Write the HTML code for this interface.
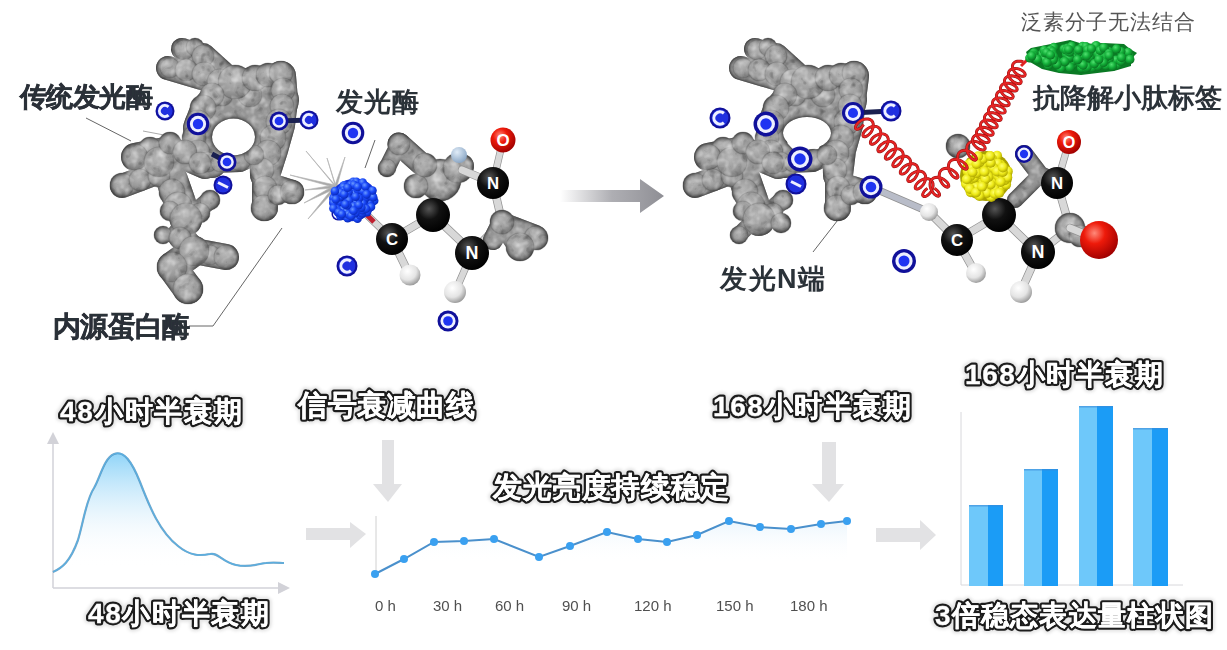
<!DOCTYPE html><html><head><meta charset="utf-8"><style>html,body{margin:0;padding:0;background:#fff;overflow:hidden;font-family:"Liberation Sans",sans-serif}svg{display:block}</style></head><body><svg width="1227" height="650" viewBox="0 0 1227 650" font-family="&quot;Liberation Sans&quot;, sans-serif"><defs>
<radialGradient id="pg" cx="42%" cy="38%" r="62%"><stop offset="0" stop-color="#b6b6b6"/><stop offset="0.65" stop-color="#999999"/><stop offset="1" stop-color="#7a7a7a"/></radialGradient>
<radialGradient id="blk" cx="38%" cy="32%" r="70%"><stop offset="0" stop-color="#555"/><stop offset="0.45" stop-color="#111"/><stop offset="1" stop-color="#000"/></radialGradient>
<radialGradient id="red" cx="38%" cy="32%" r="70%"><stop offset="0" stop-color="#ff8a7a"/><stop offset="0.4" stop-color="#ee1a0a"/><stop offset="1" stop-color="#a00000"/></radialGradient>
<radialGradient id="wht" cx="38%" cy="32%" r="70%"><stop offset="0" stop-color="#ffffff"/><stop offset="0.6" stop-color="#e4e4e4"/><stop offset="1" stop-color="#9a9a9a"/></radialGradient>
<radialGradient id="lb" cx="38%" cy="32%" r="70%"><stop offset="0" stop-color="#e0ecf8"/><stop offset="1" stop-color="#8aa6c4"/></radialGradient>
<radialGradient id="bl" cx="38%" cy="32%" r="70%"><stop offset="0" stop-color="#6a9aff"/><stop offset="0.5" stop-color="#1a48f8"/><stop offset="1" stop-color="#0828b8"/></radialGradient>
<radialGradient id="yl" cx="40%" cy="35%" r="65%"><stop offset="0" stop-color="#ffff70"/><stop offset="0.55" stop-color="#eeea18"/><stop offset="1" stop-color="#b0a800"/></radialGradient>
<radialGradient id="gr" cx="38%" cy="32%" r="70%"><stop offset="0" stop-color="#50e070"/><stop offset="0.5" stop-color="#14b03a"/><stop offset="1" stop-color="#087020"/></radialGradient>
<linearGradient id="arr" x1="0" x2="1" y1="0" y2="0"><stop offset="0" stop-color="#9a9aa0" stop-opacity="0"/><stop offset="0.5" stop-color="#9a9aa0" stop-opacity="0.8"/><stop offset="1" stop-color="#8e8e94"/></linearGradient>
<linearGradient id="crvfill" x1="0" x2="0" y1="0" y2="1"><stop offset="0" stop-color="#8ad2f8" stop-opacity="0.95"/><stop offset="0.55" stop-color="#e4f3fc" stop-opacity="0.4"/><stop offset="0.85" stop-color="#ffffff" stop-opacity="0"/></linearGradient>
<linearGradient id="linefill" x1="0" x2="0" y1="0" y2="1"><stop offset="0" stop-color="#d8ecfa" stop-opacity="0.5"/><stop offset="0.6" stop-color="#ffffff" stop-opacity="0"/></linearGradient>
<filter id="soft" x="-5%" y="-20%" width="110%" height="140%"><feGaussianBlur stdDeviation="0.45"/></filter>
<filter id="prot" x="-10%" y="-10%" width="120%" height="120%" color-interpolation-filters="sRGB">
<feGaussianBlur in="SourceAlpha" stdDeviation="2.6" result="b"/>
<feColorMatrix in="b" type="matrix" values="0 0 0 0 0.22  0 0 0 0 0.22  0 0 0 0 0.22  0 0 0 -1.7 1.7" result="dark"/>
<feComposite in="dark" in2="SourceAlpha" operator="in" result="edge"/>
<feTurbulence type="fractalNoise" baseFrequency="0.12" numOctaves="2" seed="4" result="n"/>
<feColorMatrix in="n" type="matrix" values="0 0 0 0 1  0 0 0 0 1  0 0 0 0 1  1.2 0 0 0 -0.55" result="nl"/>
<feColorMatrix in="n" type="matrix" values="0 0 0 0 0  0 0 0 0 0  0 0 0 0 0  -1.2 0 0 0 0.45" result="nd"/>
<feComposite in="nl" in2="SourceAlpha" operator="in" result="tl"/>
<feComposite in="nd" in2="SourceAlpha" operator="in" result="td"/>
<feMerge><feMergeNode in="SourceGraphic"/><feMergeNode in="tl"/><feMergeNode in="td"/><feMergeNode in="edge"/></feMerge>
</filter>
<mask id="holeL" maskUnits="userSpaceOnUse" x="0" y="0" width="1227" height="650"><rect width="1227" height="650" fill="#fff"/><ellipse cx="233.5" cy="137" rx="21.5" ry="18.5" fill="#000"/></mask>
<mask id="holeR" maskUnits="userSpaceOnUse" x="0" y="0" width="1227" height="650"><rect width="1227" height="650" fill="#fff"/><ellipse cx="807" cy="133" rx="24" ry="16" fill="#000"/></mask>
<filter id="halo" x="-10%" y="-40%" width="120%" height="180%"><feGaussianBlur stdDeviation="1.8"/></filter>
</defs><rect width="1227" height="650" fill="#fff"/><g stroke="#666" stroke-width="1" fill="none"><line x1="86" y1="118" x2="131" y2="141"/><line x1="143" y1="131" x2="164" y2="135" stroke="#aaa"/><polyline points="189,326 213,326 282,228"/><line x1="375" y1="140" x2="365" y2="168"/></g><path d="M306,151 L335,185 L336.5,188 Z" fill="#a8a8a8" stroke="#b4b4b4" stroke-width="0.7"/><path d="M327,158 L335,185 L336.5,188 Z" fill="#a8a8a8" stroke="#b4b4b4" stroke-width="0.7"/><path d="M345,157 L335,185 L336.5,188 Z" fill="#a8a8a8" stroke="#b4b4b4" stroke-width="0.7"/><path d="M290,175 L335,185 L336.5,188 Z" fill="#a8a8a8" stroke="#b4b4b4" stroke-width="0.7"/><path d="M305,190 L335,185 L336.5,188 Z" fill="#a8a8a8" stroke="#b4b4b4" stroke-width="0.7"/><path d="M304,203 L335,185 L336.5,188 Z" fill="#a8a8a8" stroke="#b4b4b4" stroke-width="0.7"/><path d="M308,219 L335,185 L336.5,188 Z" fill="#a8a8a8" stroke="#b4b4b4" stroke-width="0.7"/><g filter="url(#prot)"><g mask="url(#holeL)"><path d="M182,49 L205,57" fill="none" stroke="#959595" stroke-width="22" stroke-linecap="round" stroke-linejoin="round"/><path d="M168,68 L222,84" fill="none" stroke="#959595" stroke-width="24" stroke-linecap="round" stroke-linejoin="round"/><path d="M203,55 L235,84" fill="none" stroke="#959595" stroke-width="24" stroke-linecap="round" stroke-linejoin="round"/><path d="M235,84 L276,77" fill="none" stroke="#959595" stroke-width="28" stroke-linecap="round" stroke-linejoin="round"/><path d="M258,92 L270,88" fill="none" stroke="#959595" stroke-width="14" stroke-linecap="round" stroke-linejoin="round"/><path d="M215,105 L262,105" fill="none" stroke="#959595" stroke-width="22" stroke-linecap="round" stroke-linejoin="round"/><path d="M225,130 L245,130" fill="none" stroke="#959595" stroke-width="30" stroke-linecap="round" stroke-linejoin="round"/><path d="M250,116 L262,118" fill="none" stroke="#959595" stroke-width="14" stroke-linecap="round" stroke-linejoin="round"/><path d="M220,92 L205,110 L198,128 L200,150 L212,163" fill="none" stroke="#959595" stroke-width="30" stroke-linecap="round" stroke-linejoin="round"/><path d="M281,76 L283,100 L280,125 L273,150 L265,175" fill="none" stroke="#959595" stroke-width="30" stroke-linecap="round" stroke-linejoin="round"/><path d="M282,100 L275,125 L268,150" fill="none" stroke="#959595" stroke-width="34" stroke-linecap="round" stroke-linejoin="round"/><path d="M212,163 L240,162 L262,152" fill="none" stroke="#959595" stroke-width="20" stroke-linecap="round" stroke-linejoin="round"/><path d="M265,175 L265,208" fill="none" stroke="#959595" stroke-width="26" stroke-linecap="round" stroke-linejoin="round"/><path d="M270,185 L292,192" fill="none" stroke="#959595" stroke-width="24" stroke-linecap="round" stroke-linejoin="round"/><path d="M205,165 L170,150 L135,157" fill="none" stroke="#959595" stroke-width="28" stroke-linecap="round" stroke-linejoin="round"/><path d="M159,172 L122,186" fill="none" stroke="#959595" stroke-width="24" stroke-linecap="round" stroke-linejoin="round"/><path d="M172,180 L186,220" fill="none" stroke="#959595" stroke-width="32" stroke-linecap="round" stroke-linejoin="round"/><path d="M186,220 L210,200" fill="none" stroke="#959595" stroke-width="18" stroke-linecap="round" stroke-linejoin="round"/><path d="M180,235 L194,251 L226,257" fill="none" stroke="#959595" stroke-width="26" stroke-linecap="round" stroke-linejoin="round"/><path d="M194,251 L172,267 L188,289" fill="none" stroke="#959595" stroke-width="30" stroke-linecap="round" stroke-linejoin="round"/><circle cx="184" cy="50" r="10" fill="url(#pg)" stroke="#000" stroke-opacity="0.13" stroke-width="1.2"/><circle cx="195" cy="47" r="9" fill="url(#pg)" stroke="#000" stroke-opacity="0.13" stroke-width="1.2"/><circle cx="203" cy="56" r="11" fill="url(#pg)" stroke="#000" stroke-opacity="0.13" stroke-width="1.2"/><circle cx="170" cy="68" r="10" fill="url(#pg)" stroke="#000" stroke-opacity="0.13" stroke-width="1.2"/><circle cx="186" cy="70" r="11" fill="url(#pg)" stroke="#000" stroke-opacity="0.13" stroke-width="1.2"/><circle cx="204" cy="74" r="12" fill="url(#pg)" stroke="#000" stroke-opacity="0.13" stroke-width="1.2"/><circle cx="220" cy="82" r="13" fill="url(#pg)" stroke="#000" stroke-opacity="0.13" stroke-width="1.2"/><circle cx="222" cy="95" r="11" fill="url(#pg)" stroke="#000" stroke-opacity="0.13" stroke-width="1.2"/><circle cx="250" cy="95" r="12" fill="url(#pg)" stroke="#000" stroke-opacity="0.13" stroke-width="1.2"/><circle cx="235" cy="82" r="17" fill="url(#pg)" stroke="#000" stroke-opacity="0.13" stroke-width="1.2"/><circle cx="255" cy="78" r="13" fill="url(#pg)" stroke="#000" stroke-opacity="0.13" stroke-width="1.2"/><circle cx="268" cy="75" r="12" fill="url(#pg)" stroke="#000" stroke-opacity="0.13" stroke-width="1.2"/><circle cx="281" cy="73" r="12" fill="url(#pg)" stroke="#000" stroke-opacity="0.13" stroke-width="1.2"/><circle cx="212" cy="95" r="12" fill="url(#pg)" stroke="#000" stroke-opacity="0.13" stroke-width="1.2"/><circle cx="203" cy="108" r="13" fill="url(#pg)" stroke="#000" stroke-opacity="0.13" stroke-width="1.2"/><circle cx="198" cy="123" r="13" fill="url(#pg)" stroke="#000" stroke-opacity="0.13" stroke-width="1.2"/><circle cx="194" cy="138" r="12" fill="url(#pg)" stroke="#000" stroke-opacity="0.13" stroke-width="1.2"/><circle cx="198" cy="152" r="12" fill="url(#pg)" stroke="#000" stroke-opacity="0.13" stroke-width="1.2"/><circle cx="208" cy="162" r="10" fill="url(#pg)" stroke="#000" stroke-opacity="0.13" stroke-width="1.2"/><circle cx="283" cy="90" r="12" fill="url(#pg)" stroke="#000" stroke-opacity="0.13" stroke-width="1.2"/><circle cx="282" cy="106" r="12" fill="url(#pg)" stroke="#000" stroke-opacity="0.13" stroke-width="1.2"/><circle cx="279" cy="122" r="13" fill="url(#pg)" stroke="#000" stroke-opacity="0.13" stroke-width="1.2"/><circle cx="273" cy="138" r="13" fill="url(#pg)" stroke="#000" stroke-opacity="0.13" stroke-width="1.2"/><circle cx="268" cy="153" r="13" fill="url(#pg)" stroke="#000" stroke-opacity="0.13" stroke-width="1.2"/><circle cx="262" cy="170" r="12" fill="url(#pg)" stroke="#000" stroke-opacity="0.13" stroke-width="1.2"/><circle cx="220" cy="163" r="9" fill="url(#pg)" stroke="#000" stroke-opacity="0.13" stroke-width="1.2"/><circle cx="240" cy="160" r="11" fill="url(#pg)" stroke="#000" stroke-opacity="0.13" stroke-width="1.2"/><circle cx="254" cy="155" r="10" fill="url(#pg)" stroke="#000" stroke-opacity="0.13" stroke-width="1.2"/><circle cx="265" cy="188" r="12" fill="url(#pg)" stroke="#000" stroke-opacity="0.13" stroke-width="1.2"/><circle cx="264" cy="208" r="13" fill="url(#pg)" stroke="#000" stroke-opacity="0.13" stroke-width="1.2"/><circle cx="278" cy="195" r="10" fill="url(#pg)" stroke="#000" stroke-opacity="0.13" stroke-width="1.2"/><circle cx="292" cy="192" r="12" fill="url(#pg)" stroke="#000" stroke-opacity="0.13" stroke-width="1.2"/><circle cx="150" cy="148" r="11" fill="url(#pg)" stroke="#000" stroke-opacity="0.13" stroke-width="1.2"/><circle cx="135" cy="157" r="13" fill="url(#pg)" stroke="#000" stroke-opacity="0.13" stroke-width="1.2"/><circle cx="122" cy="185" r="12" fill="url(#pg)" stroke="#000" stroke-opacity="0.13" stroke-width="1.2"/><circle cx="140" cy="180" r="11" fill="url(#pg)" stroke="#000" stroke-opacity="0.13" stroke-width="1.2"/><circle cx="159" cy="176" r="11" fill="url(#pg)" stroke="#000" stroke-opacity="0.13" stroke-width="1.2"/><circle cx="159" cy="162" r="15" fill="url(#pg)" stroke="#000" stroke-opacity="0.13" stroke-width="1.2"/><circle cx="170" cy="143" r="11" fill="url(#pg)" stroke="#000" stroke-opacity="0.13" stroke-width="1.2"/><circle cx="185" cy="152" r="12" fill="url(#pg)" stroke="#000" stroke-opacity="0.13" stroke-width="1.2"/><circle cx="200" cy="163" r="11" fill="url(#pg)" stroke="#000" stroke-opacity="0.13" stroke-width="1.2"/><circle cx="172" cy="192" r="13" fill="url(#pg)" stroke="#000" stroke-opacity="0.13" stroke-width="1.2"/><circle cx="178" cy="206" r="14" fill="url(#pg)" stroke="#000" stroke-opacity="0.13" stroke-width="1.2"/><circle cx="170" cy="211" r="10" fill="url(#pg)" stroke="#000" stroke-opacity="0.13" stroke-width="1.2"/><circle cx="210" cy="200" r="10" fill="url(#pg)" stroke="#000" stroke-opacity="0.13" stroke-width="1.2"/><circle cx="200" cy="213" r="10" fill="url(#pg)" stroke="#000" stroke-opacity="0.13" stroke-width="1.2"/><circle cx="186" cy="219" r="16" fill="url(#pg)" stroke="#000" stroke-opacity="0.13" stroke-width="1.2"/><circle cx="163" cy="235" r="9" fill="url(#pg)" stroke="#000" stroke-opacity="0.13" stroke-width="1.2"/><circle cx="180" cy="238" r="11" fill="url(#pg)" stroke="#000" stroke-opacity="0.13" stroke-width="1.2"/><circle cx="210" cy="255" r="10" fill="url(#pg)" stroke="#000" stroke-opacity="0.13" stroke-width="1.2"/><circle cx="226" cy="257" r="12" fill="url(#pg)" stroke="#000" stroke-opacity="0.13" stroke-width="1.2"/><circle cx="194" cy="251" r="15" fill="url(#pg)" stroke="#000" stroke-opacity="0.13" stroke-width="1.2"/><circle cx="172" cy="267" r="15" fill="url(#pg)" stroke="#000" stroke-opacity="0.13" stroke-width="1.2"/><circle cx="188" cy="289" r="15" fill="url(#pg)" stroke="#000" stroke-opacity="0.13" stroke-width="1.2"/></g></g><line x1="279" y1="121" x2="309" y2="120" stroke="#1a2050" stroke-width="5"/><line x1="212" y1="154" x2="227" y2="162" stroke="#1a2050" stroke-width="5"/><circle cx="165" cy="111" r="9.5" fill="#10109a"/><circle cx="165" cy="111" r="7.6000000000000005" fill="#2030e0"/><path d="M168.5,106.8 A5.5,5.5 0 1 0 168.5,115.2" fill="none" stroke="#eef0ff" stroke-width="2.9"/><circle cx="198" cy="124" r="11.3" fill="#10109a"/><circle cx="198" cy="124" r="8.14" fill="#eef0ff"/><circle cx="198" cy="124" r="5.20" fill="#1f34f2"/><circle cx="279" cy="121" r="9.5" fill="#10109a"/><circle cx="279" cy="121" r="6.84" fill="#eef0ff"/><circle cx="279" cy="121" r="4.37" fill="#1f34f2"/><circle cx="309" cy="120" r="9.5" fill="#10109a"/><circle cx="309" cy="120" r="7.6000000000000005" fill="#2030e0"/><path d="M312.5,115.8 A5.5,5.5 0 1 0 312.5,124.2" fill="none" stroke="#eef0ff" stroke-width="2.9"/><circle cx="227" cy="162" r="9.5" fill="#10109a"/><circle cx="227" cy="162" r="6.84" fill="#eef0ff"/><circle cx="227" cy="162" r="4.37" fill="#1f34f2"/><circle cx="223" cy="185" r="9.5" fill="#10109a"/><circle cx="223" cy="185" r="7.6000000000000005" fill="#2030e0"/><line x1="218" y1="182.5" x2="228" y2="187.5" stroke="#eef0ff" stroke-width="3"/><circle cx="353" cy="133" r="11.3" fill="#10109a"/><circle cx="353" cy="133" r="8.14" fill="#eef0ff"/><circle cx="353" cy="133" r="5.20" fill="#1f34f2"/><circle cx="347" cy="266" r="10.5" fill="#10109a"/><circle cx="347" cy="266" r="8.4" fill="#2030e0"/><path d="M350.9,261.3 A6.1,6.1 0 1 0 350.9,270.7" fill="none" stroke="#eef0ff" stroke-width="3.1"/><circle cx="448" cy="321" r="10.5" fill="#10109a"/><circle cx="448" cy="321" r="7.56" fill="#eef0ff"/><circle cx="448" cy="321" r="4.83" fill="#1f34f2"/><line x1="503" y1="140" x2="493" y2="183" stroke="#909090" stroke-width="7.4" stroke-linecap="round"/><line x1="503" y1="140" x2="493" y2="183" stroke="#d8d8d8" stroke-width="6" stroke-linecap="round"/><line x1="493" y1="183" x2="502" y2="222" stroke="#909090" stroke-width="8.4" stroke-linecap="round"/><line x1="493" y1="183" x2="502" y2="222" stroke="#d8d8d8" stroke-width="7" stroke-linecap="round"/><line x1="472" y1="252" x2="502" y2="222" stroke="#909090" stroke-width="8.4" stroke-linecap="round"/><line x1="472" y1="252" x2="502" y2="222" stroke="#d8d8d8" stroke-width="7" stroke-linecap="round"/><g filter="url(#prot)"><path d="M399,144 L387,168" fill="none" stroke="#959595" stroke-width="17" stroke-linecap="round" stroke-linejoin="round"/><path d="M399,144 L437,178" fill="none" stroke="#959595" stroke-width="23" stroke-linecap="round" stroke-linejoin="round"/><path d="M437,178 L462,166" fill="none" stroke="#959595" stroke-width="24" stroke-linecap="round" stroke-linejoin="round"/><path d="M493,240 L502,222 L536,235" fill="none" stroke="#959595" stroke-width="20" stroke-linecap="round" stroke-linejoin="round"/><path d="M502,222 L518,245" fill="none" stroke="#959595" stroke-width="22" stroke-linecap="round" stroke-linejoin="round"/><circle cx="399" cy="144" r="11" fill="url(#pg)" stroke="#000" stroke-opacity="0.13" stroke-width="1.2"/><circle cx="387" cy="168" r="9" fill="url(#pg)" stroke="#000" stroke-opacity="0.13" stroke-width="1.2"/><circle cx="440" cy="180" r="21" fill="url(#pg)" stroke="#000" stroke-opacity="0.13" stroke-width="1.2"/><circle cx="416" cy="186" r="12" fill="url(#pg)" stroke="#000" stroke-opacity="0.13" stroke-width="1.2"/><circle cx="458" cy="168" r="15" fill="url(#pg)" stroke="#000" stroke-opacity="0.13" stroke-width="1.2"/><circle cx="425" cy="165" r="12" fill="url(#pg)" stroke="#000" stroke-opacity="0.13" stroke-width="1.2"/><circle cx="502" cy="222" r="12" fill="url(#pg)" stroke="#000" stroke-opacity="0.13" stroke-width="1.2"/><circle cx="536" cy="238" r="12" fill="url(#pg)" stroke="#000" stroke-opacity="0.13" stroke-width="1.2"/><circle cx="520" cy="247" r="14" fill="url(#pg)" stroke="#000" stroke-opacity="0.13" stroke-width="1.2"/></g><line x1="392" y1="239" x2="433" y2="215" stroke="#909090" stroke-width="8.4" stroke-linecap="round"/><line x1="392" y1="239" x2="433" y2="215" stroke="#d8d8d8" stroke-width="7" stroke-linecap="round"/><line x1="392" y1="239" x2="410" y2="276" stroke="#909090" stroke-width="8.4" stroke-linecap="round"/><line x1="392" y1="239" x2="410" y2="276" stroke="#d8d8d8" stroke-width="7" stroke-linecap="round"/><line x1="433" y1="215" x2="472" y2="252" stroke="#909090" stroke-width="8.4" stroke-linecap="round"/><line x1="433" y1="215" x2="472" y2="252" stroke="#d8d8d8" stroke-width="7" stroke-linecap="round"/><line x1="472" y1="253" x2="455" y2="292" stroke="#909090" stroke-width="7.4" stroke-linecap="round"/><line x1="472" y1="253" x2="455" y2="292" stroke="#d8d8d8" stroke-width="6" stroke-linecap="round"/><line x1="493" y1="183" x2="462" y2="170" stroke="#909090" stroke-width="8.4" stroke-linecap="round"/><line x1="493" y1="183" x2="462" y2="170" stroke="#d8d8d8" stroke-width="7" stroke-linecap="round"/><line x1="368" y1="216" x2="392" y2="239" stroke="#909090" stroke-width="7.4" stroke-linecap="round"/><line x1="368" y1="216" x2="392" y2="239" stroke="#d8d8d8" stroke-width="6" stroke-linecap="round"/><line x1="366" y1="214" x2="374" y2="222" stroke="#c02030" stroke-width="5"/><circle cx="459" cy="155" r="8" fill="url(#lb)"/><circle cx="503" cy="140" r="12.5" fill="url(#red)"/><text x="503" y="146.1" font-size="16.9" font-weight="bold" fill="#fff" text-anchor="middle">O</text><circle cx="433" cy="215" r="17" fill="url(#blk)"/><circle cx="493" cy="183" r="16" fill="url(#blk)"/><text x="493" y="189.0" font-size="16.8" font-weight="bold" fill="#fff" text-anchor="middle">N</text><circle cx="472" cy="253" r="17" fill="url(#blk)"/><text x="472" y="259.4" font-size="17.9" font-weight="bold" fill="#fff" text-anchor="middle">N</text><circle cx="392" cy="239" r="16" fill="url(#blk)"/><text x="392" y="245.0" font-size="16.8" font-weight="bold" fill="#fff" text-anchor="middle">C</text><circle cx="410" cy="275" r="10.5" fill="url(#wht)"/><circle cx="455" cy="292" r="11" fill="url(#wht)"/><circle cx="338" cy="214" r="6.5" fill="#10109a"/><circle cx="338" cy="214" r="5.2" fill="#2030e0"/><path d="M340.4,211.1 A3.8,3.8 0 1 0 340.4,216.9" fill="none" stroke="#eef0ff" stroke-width="1.9"/><ellipse cx="353" cy="200" rx="24" ry="21" transform="rotate(-20 353 200)" fill="#1030d8"/><circle cx="340.5" cy="216.2" r="4.3" fill="url(#bl)"/><circle cx="365.9" cy="205.7" r="4.3" fill="url(#bl)"/><circle cx="338.1" cy="204.4" r="4.3" fill="url(#bl)"/><circle cx="341.7" cy="206.1" r="4.3" fill="url(#bl)"/><circle cx="339.3" cy="201.9" r="4.3" fill="url(#bl)"/><circle cx="333.4" cy="198.1" r="4.3" fill="url(#bl)"/><circle cx="353.1" cy="181.9" r="4.3" fill="url(#bl)"/><circle cx="362.3" cy="188.4" r="4.3" fill="url(#bl)"/><circle cx="364.1" cy="196.6" r="4.3" fill="url(#bl)"/><circle cx="352.0" cy="202.7" r="4.3" fill="url(#bl)"/><circle cx="347.7" cy="209.7" r="4.3" fill="url(#bl)"/><circle cx="345.5" cy="197.4" r="4.3" fill="url(#bl)"/><circle cx="353.0" cy="189.0" r="4.3" fill="url(#bl)"/><circle cx="344.0" cy="185.2" r="4.3" fill="url(#bl)"/><circle cx="374.2" cy="200.7" r="4.3" fill="url(#bl)"/><circle cx="350.9" cy="198.4" r="4.3" fill="url(#bl)"/><circle cx="369.6" cy="201.9" r="4.3" fill="url(#bl)"/><circle cx="360.7" cy="183.6" r="4.3" fill="url(#bl)"/><circle cx="356.4" cy="181.9" r="4.3" fill="url(#bl)"/><circle cx="350.8" cy="184.9" r="4.3" fill="url(#bl)"/><circle cx="357.5" cy="218.7" r="4.3" fill="url(#bl)"/><circle cx="353.9" cy="184.9" r="4.3" fill="url(#bl)"/><circle cx="353.8" cy="199.9" r="4.3" fill="url(#bl)"/><circle cx="355.2" cy="194.0" r="4.3" fill="url(#bl)"/><circle cx="364.0" cy="200.7" r="4.3" fill="url(#bl)"/><circle cx="333.4" cy="202.7" r="4.3" fill="url(#bl)"/><circle cx="342.0" cy="189.4" r="4.3" fill="url(#bl)"/><circle cx="343.3" cy="186.9" r="4.3" fill="url(#bl)"/><circle cx="360.2" cy="197.2" r="4.3" fill="url(#bl)"/><circle cx="337.0" cy="209.0" r="4.3" fill="url(#bl)"/><circle cx="359.9" cy="215.3" r="4.3" fill="url(#bl)"/><circle cx="343.0" cy="209.6" r="4.3" fill="url(#bl)"/><circle cx="360.6" cy="209.5" r="4.3" fill="url(#bl)"/><circle cx="356.3" cy="203.8" r="4.3" fill="url(#bl)"/><circle cx="350.4" cy="207.3" r="4.3" fill="url(#bl)"/><circle cx="371.0" cy="207.0" r="4.3" fill="url(#bl)"/><circle cx="367.1" cy="212.1" r="4.3" fill="url(#bl)"/><circle cx="335.8" cy="193.1" r="4.3" fill="url(#bl)"/><circle cx="357.8" cy="209.6" r="4.3" fill="url(#bl)"/><circle cx="347.7" cy="218.1" r="4.3" fill="url(#bl)"/><circle cx="348.4" cy="192.3" r="4.3" fill="url(#bl)"/><circle cx="362.0" cy="213.1" r="4.3" fill="url(#bl)"/><circle cx="347.1" cy="197.5" r="4.3" fill="url(#bl)"/><circle cx="362.6" cy="210.2" r="4.3" fill="url(#bl)"/><circle cx="340.1" cy="197.2" r="4.3" fill="url(#bl)"/><circle cx="344.0" cy="190.5" r="4.3" fill="url(#bl)"/><circle cx="333.4" cy="208.4" r="4.3" fill="url(#bl)"/><circle cx="349.0" cy="200.5" r="4.3" fill="url(#bl)"/><circle cx="338.7" cy="212.4" r="4.3" fill="url(#bl)"/><circle cx="353.6" cy="206.2" r="4.3" fill="url(#bl)"/><circle cx="366.6" cy="197.4" r="4.3" fill="url(#bl)"/><circle cx="355.3" cy="213.2" r="4.3" fill="url(#bl)"/><circle cx="362.8" cy="203.7" r="4.3" fill="url(#bl)"/><circle cx="346.8" cy="211.9" r="4.3" fill="url(#bl)"/><circle cx="365.2" cy="191.2" r="4.3" fill="url(#bl)"/><circle cx="340.8" cy="192.8" r="4.3" fill="url(#bl)"/><circle cx="335.8" cy="199.3" r="4.3" fill="url(#bl)"/><circle cx="366.1" cy="208.8" r="4.3" fill="url(#bl)"/><circle cx="348.3" cy="214.4" r="4.3" fill="url(#bl)"/><circle cx="341.8" cy="214.2" r="4.3" fill="url(#bl)"/><circle cx="334.9" cy="191.0" r="4.3" fill="url(#bl)"/><circle cx="344.2" cy="194.4" r="4.3" fill="url(#bl)"/><circle cx="369.7" cy="195.8" r="4.3" fill="url(#bl)"/><circle cx="358.1" cy="190.1" r="4.3" fill="url(#bl)"/><circle cx="362.7" cy="182.6" r="4.3" fill="url(#bl)"/><circle cx="358.9" cy="198.5" r="4.3" fill="url(#bl)"/><circle cx="355.6" cy="196.7" r="4.3" fill="url(#bl)"/><circle cx="361.4" cy="207.6" r="4.3" fill="url(#bl)"/><circle cx="347.4" cy="205.4" r="4.3" fill="url(#bl)"/><circle cx="362.8" cy="191.0" r="4.3" fill="url(#bl)"/><circle cx="365.5" cy="186.5" r="4.3" fill="url(#bl)"/><circle cx="373.2" cy="197.2" r="4.3" fill="url(#bl)"/><circle cx="372.5" cy="190.5" r="4.3" fill="url(#bl)"/><circle cx="358.7" cy="205.1" r="4.3" fill="url(#bl)"/><circle cx="366.5" cy="194.4" r="4.3" fill="url(#bl)"/><circle cx="351.1" cy="215.9" r="4.3" fill="url(#bl)"/><circle cx="357.6" cy="187.0" r="4.3" fill="url(#bl)"/><circle cx="347.5" cy="187.7" r="4.3" fill="url(#bl)"/><circle cx="345.3" cy="204.4" r="4.3" fill="url(#bl)"/><circle cx="353.5" cy="210.8" r="4.3" fill="url(#bl)"/><text x="20" y="106" font-size="26.5" font-weight="bold" fill="#2c3038" stroke="#2c3038" stroke-width="0.5" letter-spacing="-0.6" filter="url(#soft)">传统发光酶</text><text x="336" y="111" font-size="27" font-weight="bold" fill="#2c3038" stroke="#2c3038" stroke-width="0" letter-spacing="1" filter="url(#soft)">发光酶</text><text x="53" y="336" font-size="27.5" font-weight="bold" fill="#2c3038" stroke="#2c3038" stroke-width="0.5" letter-spacing="-0.7" filter="url(#soft)">内源蛋白酶</text><path d="M560,190 L640,190 L640,179 L664,196 L640,213 L640,202 L560,202 Z" fill="url(#arr)"/><g stroke="#666" stroke-width="1" fill="none"><line x1="841" y1="216" x2="813" y2="252"/></g><g filter="url(#prot)"><g mask="url(#holeR)"><path d="M755,49 L778,57" fill="none" stroke="#959595" stroke-width="22" stroke-linecap="round" stroke-linejoin="round"/><path d="M741,68 L795,84" fill="none" stroke="#959595" stroke-width="24" stroke-linecap="round" stroke-linejoin="round"/><path d="M776,55 L808,84" fill="none" stroke="#959595" stroke-width="24" stroke-linecap="round" stroke-linejoin="round"/><path d="M808,84 L849,77" fill="none" stroke="#959595" stroke-width="28" stroke-linecap="round" stroke-linejoin="round"/><path d="M831,92 L838,88" fill="none" stroke="#959595" stroke-width="14" stroke-linecap="round" stroke-linejoin="round"/><path d="M788,105 L835,105" fill="none" stroke="#959595" stroke-width="22" stroke-linecap="round" stroke-linejoin="round"/><path d="M798,130 L818,130" fill="none" stroke="#959595" stroke-width="30" stroke-linecap="round" stroke-linejoin="round"/><path d="M823,116 L835,118" fill="none" stroke="#959595" stroke-width="14" stroke-linecap="round" stroke-linejoin="round"/><path d="M793,92 L778,110 L771,128 L773,150 L785,163" fill="none" stroke="#959595" stroke-width="30" stroke-linecap="round" stroke-linejoin="round"/><path d="M854,76 L851,100 L848,125 L841,150 L838,175" fill="none" stroke="#959595" stroke-width="30" stroke-linecap="round" stroke-linejoin="round"/><path d="M850,100 L843,125 L836,150" fill="none" stroke="#959595" stroke-width="34" stroke-linecap="round" stroke-linejoin="round"/><path d="M785,163 L813,162 L835,152" fill="none" stroke="#959595" stroke-width="20" stroke-linecap="round" stroke-linejoin="round"/><path d="M838,175 L838,208" fill="none" stroke="#959595" stroke-width="26" stroke-linecap="round" stroke-linejoin="round"/><path d="M843,185 L865,192" fill="none" stroke="#959595" stroke-width="24" stroke-linecap="round" stroke-linejoin="round"/><path d="M778,165 L743,150 L708,157" fill="none" stroke="#959595" stroke-width="28" stroke-linecap="round" stroke-linejoin="round"/><path d="M732,172 L695,186" fill="none" stroke="#959595" stroke-width="24" stroke-linecap="round" stroke-linejoin="round"/><path d="M745,180 L759,220" fill="none" stroke="#959595" stroke-width="32" stroke-linecap="round" stroke-linejoin="round"/><path d="M759,220 L783,200" fill="none" stroke="#959595" stroke-width="18" stroke-linecap="round" stroke-linejoin="round"/><path d="M752,222 L740,234" fill="none" stroke="#959595" stroke-width="16" stroke-linecap="round" stroke-linejoin="round"/><circle cx="757" cy="50" r="10" fill="url(#pg)" stroke="#000" stroke-opacity="0.13" stroke-width="1.2"/><circle cx="768" cy="47" r="9" fill="url(#pg)" stroke="#000" stroke-opacity="0.13" stroke-width="1.2"/><circle cx="776" cy="56" r="11" fill="url(#pg)" stroke="#000" stroke-opacity="0.13" stroke-width="1.2"/><circle cx="743" cy="68" r="10" fill="url(#pg)" stroke="#000" stroke-opacity="0.13" stroke-width="1.2"/><circle cx="759" cy="70" r="11" fill="url(#pg)" stroke="#000" stroke-opacity="0.13" stroke-width="1.2"/><circle cx="777" cy="74" r="12" fill="url(#pg)" stroke="#000" stroke-opacity="0.13" stroke-width="1.2"/><circle cx="793" cy="82" r="13" fill="url(#pg)" stroke="#000" stroke-opacity="0.13" stroke-width="1.2"/><circle cx="795" cy="95" r="11" fill="url(#pg)" stroke="#000" stroke-opacity="0.13" stroke-width="1.2"/><circle cx="823" cy="95" r="12" fill="url(#pg)" stroke="#000" stroke-opacity="0.13" stroke-width="1.2"/><circle cx="808" cy="82" r="17" fill="url(#pg)" stroke="#000" stroke-opacity="0.13" stroke-width="1.2"/><circle cx="828" cy="78" r="13" fill="url(#pg)" stroke="#000" stroke-opacity="0.13" stroke-width="1.2"/><circle cx="841" cy="75" r="12" fill="url(#pg)" stroke="#000" stroke-opacity="0.13" stroke-width="1.2"/><circle cx="854" cy="73" r="12" fill="url(#pg)" stroke="#000" stroke-opacity="0.13" stroke-width="1.2"/><circle cx="785" cy="95" r="12" fill="url(#pg)" stroke="#000" stroke-opacity="0.13" stroke-width="1.2"/><circle cx="776" cy="108" r="13" fill="url(#pg)" stroke="#000" stroke-opacity="0.13" stroke-width="1.2"/><circle cx="771" cy="123" r="13" fill="url(#pg)" stroke="#000" stroke-opacity="0.13" stroke-width="1.2"/><circle cx="767" cy="138" r="12" fill="url(#pg)" stroke="#000" stroke-opacity="0.13" stroke-width="1.2"/><circle cx="771" cy="152" r="12" fill="url(#pg)" stroke="#000" stroke-opacity="0.13" stroke-width="1.2"/><circle cx="781" cy="162" r="10" fill="url(#pg)" stroke="#000" stroke-opacity="0.13" stroke-width="1.2"/><circle cx="851" cy="90" r="12" fill="url(#pg)" stroke="#000" stroke-opacity="0.13" stroke-width="1.2"/><circle cx="850" cy="106" r="12" fill="url(#pg)" stroke="#000" stroke-opacity="0.13" stroke-width="1.2"/><circle cx="847" cy="122" r="13" fill="url(#pg)" stroke="#000" stroke-opacity="0.13" stroke-width="1.2"/><circle cx="841" cy="138" r="13" fill="url(#pg)" stroke="#000" stroke-opacity="0.13" stroke-width="1.2"/><circle cx="836" cy="153" r="13" fill="url(#pg)" stroke="#000" stroke-opacity="0.13" stroke-width="1.2"/><circle cx="835" cy="170" r="12" fill="url(#pg)" stroke="#000" stroke-opacity="0.13" stroke-width="1.2"/><circle cx="793" cy="163" r="9" fill="url(#pg)" stroke="#000" stroke-opacity="0.13" stroke-width="1.2"/><circle cx="813" cy="160" r="11" fill="url(#pg)" stroke="#000" stroke-opacity="0.13" stroke-width="1.2"/><circle cx="827" cy="155" r="10" fill="url(#pg)" stroke="#000" stroke-opacity="0.13" stroke-width="1.2"/><circle cx="838" cy="188" r="12" fill="url(#pg)" stroke="#000" stroke-opacity="0.13" stroke-width="1.2"/><circle cx="837" cy="208" r="13" fill="url(#pg)" stroke="#000" stroke-opacity="0.13" stroke-width="1.2"/><circle cx="851" cy="195" r="10" fill="url(#pg)" stroke="#000" stroke-opacity="0.13" stroke-width="1.2"/><circle cx="865" cy="192" r="12" fill="url(#pg)" stroke="#000" stroke-opacity="0.13" stroke-width="1.2"/><circle cx="723" cy="148" r="11" fill="url(#pg)" stroke="#000" stroke-opacity="0.13" stroke-width="1.2"/><circle cx="708" cy="157" r="13" fill="url(#pg)" stroke="#000" stroke-opacity="0.13" stroke-width="1.2"/><circle cx="695" cy="185" r="12" fill="url(#pg)" stroke="#000" stroke-opacity="0.13" stroke-width="1.2"/><circle cx="713" cy="180" r="11" fill="url(#pg)" stroke="#000" stroke-opacity="0.13" stroke-width="1.2"/><circle cx="732" cy="176" r="11" fill="url(#pg)" stroke="#000" stroke-opacity="0.13" stroke-width="1.2"/><circle cx="732" cy="162" r="15" fill="url(#pg)" stroke="#000" stroke-opacity="0.13" stroke-width="1.2"/><circle cx="743" cy="143" r="11" fill="url(#pg)" stroke="#000" stroke-opacity="0.13" stroke-width="1.2"/><circle cx="758" cy="152" r="12" fill="url(#pg)" stroke="#000" stroke-opacity="0.13" stroke-width="1.2"/><circle cx="773" cy="163" r="11" fill="url(#pg)" stroke="#000" stroke-opacity="0.13" stroke-width="1.2"/><circle cx="745" cy="192" r="13" fill="url(#pg)" stroke="#000" stroke-opacity="0.13" stroke-width="1.2"/><circle cx="751" cy="206" r="14" fill="url(#pg)" stroke="#000" stroke-opacity="0.13" stroke-width="1.2"/><circle cx="743" cy="211" r="10" fill="url(#pg)" stroke="#000" stroke-opacity="0.13" stroke-width="1.2"/><circle cx="783" cy="200" r="10" fill="url(#pg)" stroke="#000" stroke-opacity="0.13" stroke-width="1.2"/><circle cx="773" cy="213" r="10" fill="url(#pg)" stroke="#000" stroke-opacity="0.13" stroke-width="1.2"/><circle cx="759" cy="219" r="16" fill="url(#pg)" stroke="#000" stroke-opacity="0.13" stroke-width="1.2"/><circle cx="739" cy="235" r="9" fill="url(#pg)" stroke="#000" stroke-opacity="0.13" stroke-width="1.2"/><circle cx="781" cy="223" r="10" fill="url(#pg)" stroke="#000" stroke-opacity="0.13" stroke-width="1.2"/></g></g><line x1="852" y1="113" x2="891" y2="111" stroke="#1a2050" stroke-width="5"/><line x1="871" y1="187" x2="929" y2="212" stroke="#909090" stroke-width="7.4" stroke-linecap="round"/><line x1="871" y1="187" x2="929" y2="212" stroke="#b8bcc8" stroke-width="6" stroke-linecap="round"/><line x1="1069" y1="142" x2="1057" y2="183" stroke="#909090" stroke-width="7.4" stroke-linecap="round"/><line x1="1069" y1="142" x2="1057" y2="183" stroke="#d8d8d8" stroke-width="6" stroke-linecap="round"/><line x1="1057" y1="183" x2="1070" y2="228" stroke="#909090" stroke-width="8.4" stroke-linecap="round"/><line x1="1057" y1="183" x2="1070" y2="228" stroke="#d8d8d8" stroke-width="7" stroke-linecap="round"/><line x1="1038" y1="253" x2="1070" y2="228" stroke="#909090" stroke-width="8.4" stroke-linecap="round"/><line x1="1038" y1="253" x2="1070" y2="228" stroke="#d8d8d8" stroke-width="7" stroke-linecap="round"/><g filter="url(#prot)"><path d="M1024,154 L1040,175 L1057,183" fill="none" stroke="#959595" stroke-width="18" stroke-linecap="round" stroke-linejoin="round"/><path d="M1040,175 L1015,200" fill="none" stroke="#959595" stroke-width="16" stroke-linecap="round" stroke-linejoin="round"/><circle cx="958" cy="146" r="12" fill="url(#pg)" stroke="#000" stroke-opacity="0.13" stroke-width="1.2"/><circle cx="1070" cy="228" r="15" fill="url(#pg)" stroke="#000" stroke-opacity="0.13" stroke-width="1.2"/><circle cx="1080" cy="236" r="11" fill="url(#pg)" stroke="#000" stroke-opacity="0.13" stroke-width="1.2"/></g><line x1="1070" y1="228" x2="1099" y2="240" stroke="#909090" stroke-width="8.4" stroke-linecap="round"/><line x1="1070" y1="228" x2="1099" y2="240" stroke="#d8d8d8" stroke-width="7" stroke-linecap="round"/><line x1="957" y1="240" x2="999" y2="215" stroke="#909090" stroke-width="8.4" stroke-linecap="round"/><line x1="957" y1="240" x2="999" y2="215" stroke="#d8d8d8" stroke-width="7" stroke-linecap="round"/><line x1="957" y1="240" x2="976" y2="274" stroke="#909090" stroke-width="8.4" stroke-linecap="round"/><line x1="957" y1="240" x2="976" y2="274" stroke="#d8d8d8" stroke-width="7" stroke-linecap="round"/><line x1="999" y1="215" x2="1038" y2="253" stroke="#909090" stroke-width="8.4" stroke-linecap="round"/><line x1="999" y1="215" x2="1038" y2="253" stroke="#d8d8d8" stroke-width="7" stroke-linecap="round"/><line x1="1038" y1="253" x2="1021" y2="291" stroke="#909090" stroke-width="8.4" stroke-linecap="round"/><line x1="1038" y1="253" x2="1021" y2="291" stroke="#d8d8d8" stroke-width="7" stroke-linecap="round"/><line x1="929" y1="212" x2="957" y2="240" stroke="#909090" stroke-width="8.4" stroke-linecap="round"/><line x1="929" y1="212" x2="957" y2="240" stroke="#d8d8d8" stroke-width="7" stroke-linecap="round"/><circle cx="720" cy="118" r="10.5" fill="#10109a"/><circle cx="720" cy="118" r="8.4" fill="#2030e0"/><path d="M723.9,113.3 A6.1,6.1 0 1 0 723.9,122.7" fill="none" stroke="#eef0ff" stroke-width="3.1"/><circle cx="766" cy="124" r="12.5" fill="#10109a"/><circle cx="766" cy="124" r="9.00" fill="#eef0ff"/><circle cx="766" cy="124" r="5.75" fill="#1f34f2"/><circle cx="853" cy="113" r="11" fill="#10109a"/><circle cx="853" cy="113" r="7.92" fill="#eef0ff"/><circle cx="853" cy="113" r="5.06" fill="#1f34f2"/><circle cx="891" cy="111" r="10.5" fill="#10109a"/><circle cx="891" cy="111" r="8.4" fill="#2030e0"/><path d="M894.9,106.3 A6.1,6.1 0 1 0 894.9,115.7" fill="none" stroke="#eef0ff" stroke-width="3.1"/><circle cx="800" cy="159" r="12.5" fill="#10109a"/><circle cx="800" cy="159" r="9.00" fill="#eef0ff"/><circle cx="800" cy="159" r="5.75" fill="#1f34f2"/><circle cx="796" cy="184" r="10.5" fill="#10109a"/><circle cx="796" cy="184" r="8.4" fill="#2030e0"/><line x1="791" y1="181.5" x2="801" y2="186.5" stroke="#eef0ff" stroke-width="3"/><circle cx="871" cy="187" r="11.5" fill="#10109a"/><circle cx="871" cy="187" r="8.28" fill="#eef0ff"/><circle cx="871" cy="187" r="5.29" fill="#1f34f2"/><circle cx="904" cy="261" r="12" fill="#10109a"/><circle cx="904" cy="261" r="8.64" fill="#eef0ff"/><circle cx="904" cy="261" r="5.52" fill="#1f34f2"/><circle cx="1024" cy="154" r="9" fill="#10109a"/><circle cx="1024" cy="154" r="6.48" fill="#eef0ff"/><circle cx="1024" cy="154" r="4.14" fill="#1f34f2"/><circle cx="1069" cy="142" r="12" fill="url(#red)"/><text x="1069" y="147.8" font-size="16.2" font-weight="bold" fill="#fff" text-anchor="middle">O</text><circle cx="999" cy="215" r="17" fill="url(#blk)"/><circle cx="1057" cy="183" r="16" fill="url(#blk)"/><text x="1057" y="189.0" font-size="16.8" font-weight="bold" fill="#fff" text-anchor="middle">N</text><circle cx="1038" cy="252" r="17" fill="url(#blk)"/><text x="1038" y="258.4" font-size="17.9" font-weight="bold" fill="#fff" text-anchor="middle">N</text><circle cx="957" cy="240" r="16" fill="url(#blk)"/><text x="957" y="246.0" font-size="16.8" font-weight="bold" fill="#fff" text-anchor="middle">C</text><circle cx="1099" cy="240" r="19" fill="url(#red)"/><circle cx="929" cy="212" r="9" fill="url(#wht)"/><circle cx="976" cy="273" r="10" fill="url(#wht)"/><circle cx="1021" cy="292" r="11" fill="url(#wht)"/><path d="M863.6,124.6 L862.2,126.4 L860.7,127.8 L859.2,128.7 L857.8,129.3 L856.7,129.3 L855.9,128.9 L855.4,128.1 L855.5,126.9 L856.0,125.5 L857.0,124.0 L858.4,122.5 L860.1,121.1 L862.1,120.0 L864.2,119.2 L866.4,118.9 L868.4,119.0 L870.2,119.6 L871.6,120.6 L872.7,122.0 L873.2,123.8 L873.3,125.8 L873.0,128.0 L872.2,130.1 L871.1,132.1 L869.7,133.8 L868.2,135.2 L866.7,136.2 L865.3,136.7 L864.2,136.8 L863.3,136.4 L862.9,135.5 L863.0,134.4 L863.5,133.0 L864.5,131.5 L865.9,130.0 L867.6,128.6 L869.6,127.5 L871.7,126.7 L873.8,126.3 L875.9,126.4 L877.6,127.0 L879.1,128.1 L880.1,129.5 L880.7,131.3 L880.8,133.3 L880.5,135.4 L879.7,137.6 L878.6,139.6 L877.2,141.3 L875.7,142.7 L874.2,143.7 L872.8,144.2 L871.6,144.2 L870.8,143.8 L870.4,143.0 L870.4,141.8 L871.0,140.5 L871.9,138.9 L873.3,137.4 L875.1,136.1 L877.1,135.0 L879.2,134.2 L881.3,133.8 L883.3,133.9 L885.1,134.5 L886.6,135.5 L887.6,137.0 L888.2,138.8 L888.3,140.8 L887.9,142.9 L887.1,145.0 L886.0,147.0 L884.7,148.8 L883.2,150.2 L881.7,151.2 L880.3,151.7 L879.1,151.7 L878.3,151.3 L877.9,150.5 L877.9,149.3 L878.4,147.9 L879.4,146.4 L880.8,144.9 L882.6,143.6 L884.5,142.4 L886.7,141.7 L888.8,141.3 L890.8,141.4 L892.6,142.0 L894.0,143.0 L895.1,144.5 L895.7,146.2 L895.8,148.3 L895.4,150.4 L894.6,152.5 L893.5,154.5 L892.1,156.2 L890.6,157.6 L889.1,158.6 L887.7,159.1 L886.6,159.2 L885.8,158.8 L885.3,157.9 L885.4,156.8 L885.9,155.4 L886.9,153.9 L888.3,152.4 L890.0,151.0 L892.0,149.9 L894.1,149.1 L896.3,148.8 L898.3,148.9 L900.1,149.4 L901.5,150.5 L902.6,151.9 L903.1,153.7 L903.2,155.7 L902.9,157.9 L902.1,160.0 L901.0,162.0 L899.6,163.7 L898.1,165.1 L896.6,166.1 L895.2,166.6 L894.1,166.7 L893.2,166.2 L892.8,165.4 L892.9,164.3 L893.4,162.9 L894.4,161.4 L895.8,159.9 L897.5,158.5 L899.5,157.4 L901.6,156.6 L903.7,156.2 L905.8,156.3 L907.5,156.9 L909.0,158.0 L910.0,159.4 L910.6,161.2 L910.7,163.2 L910.3,165.3 L909.6,167.5 L908.4,169.4 L907.1,171.2 L905.6,172.6 L904.1,173.6 L902.7,174.1 L901.5,174.1 L900.7,173.7 L900.3,172.9 L900.3,171.7 L900.8,170.3 L901.8,168.8 L903.2,167.3 L905.0,166.0 L907.0,164.9 L909.1,164.1 L911.2,163.7 L913.2,163.8 L915.0,164.4 L916.5,165.4 L917.5,166.9 L918.1,168.7 L918.2,170.7 L917.8,172.8 L917.0,174.9 L915.9,176.9 L914.6,178.7 L913.1,180.1 L911.5,181.0 L910.2,181.6 L909.0,181.6 L908.2,181.2 L907.8,180.4 L907.8,179.2 L908.3,177.8 L909.3,176.3 L910.7,174.8 L912.4,173.4 L914.4,172.3 L916.6,171.5 L918.7,171.2 L920.7,171.3 L922.5,171.9 L923.9,172.9 L925.0,174.4 L925.6,176.1 L925.7,178.2 L925.3,180.3 L924.5,182.4 L923.4,184.4 L922.0,186.1 L920.5,187.5 L919.0,188.5 L917.6,189.0 L916.5,189.1 L915.6,188.7 L915.2,187.8 L915.3,186.7 L915.8,185.3 L916.8,183.8 L918.2,182.3 L919.9,180.9 L921.9,179.8 L924.0,179.0 L926.2,178.7 L928.2,178.8 L930.0,179.3 L931.4,180.4 L932.4,181.8 L933.0,183.6 L933.1,185.6 L932.8,187.8 L932.0,189.9 L930.9,191.9 L929.5,193.6 L928.0,195.0 L926.5,196.0 L925.1,196.5 L923.9,196.6 L923.1,196.1 L922.7,195.3 L922.7,194.2 L923.3,192.8 L924.2,191.3 L925.6,189.8 L927.4,188.4" fill="none" stroke="#901010" stroke-width="2.9"/><path d="M863.6,124.6 L862.2,126.4 L860.7,127.8 L859.2,128.7 L857.8,129.3 L856.7,129.3 L855.9,128.9 L855.4,128.1 L855.5,126.9 L856.0,125.5 L857.0,124.0 L858.4,122.5 L860.1,121.1 L862.1,120.0 L864.2,119.2 L866.4,118.9 L868.4,119.0 L870.2,119.6 L871.6,120.6 L872.7,122.0 L873.2,123.8 L873.3,125.8 L873.0,128.0 L872.2,130.1 L871.1,132.1 L869.7,133.8 L868.2,135.2 L866.7,136.2 L865.3,136.7 L864.2,136.8 L863.3,136.4 L862.9,135.5 L863.0,134.4 L863.5,133.0 L864.5,131.5 L865.9,130.0 L867.6,128.6 L869.6,127.5 L871.7,126.7 L873.8,126.3 L875.9,126.4 L877.6,127.0 L879.1,128.1 L880.1,129.5 L880.7,131.3 L880.8,133.3 L880.5,135.4 L879.7,137.6 L878.6,139.6 L877.2,141.3 L875.7,142.7 L874.2,143.7 L872.8,144.2 L871.6,144.2 L870.8,143.8 L870.4,143.0 L870.4,141.8 L871.0,140.5 L871.9,138.9 L873.3,137.4 L875.1,136.1 L877.1,135.0 L879.2,134.2 L881.3,133.8 L883.3,133.9 L885.1,134.5 L886.6,135.5 L887.6,137.0 L888.2,138.8 L888.3,140.8 L887.9,142.9 L887.1,145.0 L886.0,147.0 L884.7,148.8 L883.2,150.2 L881.7,151.2 L880.3,151.7 L879.1,151.7 L878.3,151.3 L877.9,150.5 L877.9,149.3 L878.4,147.9 L879.4,146.4 L880.8,144.9 L882.6,143.6 L884.5,142.4 L886.7,141.7 L888.8,141.3 L890.8,141.4 L892.6,142.0 L894.0,143.0 L895.1,144.5 L895.7,146.2 L895.8,148.3 L895.4,150.4 L894.6,152.5 L893.5,154.5 L892.1,156.2 L890.6,157.6 L889.1,158.6 L887.7,159.1 L886.6,159.2 L885.8,158.8 L885.3,157.9 L885.4,156.8 L885.9,155.4 L886.9,153.9 L888.3,152.4 L890.0,151.0 L892.0,149.9 L894.1,149.1 L896.3,148.8 L898.3,148.9 L900.1,149.4 L901.5,150.5 L902.6,151.9 L903.1,153.7 L903.2,155.7 L902.9,157.9 L902.1,160.0 L901.0,162.0 L899.6,163.7 L898.1,165.1 L896.6,166.1 L895.2,166.6 L894.1,166.7 L893.2,166.2 L892.8,165.4 L892.9,164.3 L893.4,162.9 L894.4,161.4 L895.8,159.9 L897.5,158.5 L899.5,157.4 L901.6,156.6 L903.7,156.2 L905.8,156.3 L907.5,156.9 L909.0,158.0 L910.0,159.4 L910.6,161.2 L910.7,163.2 L910.3,165.3 L909.6,167.5 L908.4,169.4 L907.1,171.2 L905.6,172.6 L904.1,173.6 L902.7,174.1 L901.5,174.1 L900.7,173.7 L900.3,172.9 L900.3,171.7 L900.8,170.3 L901.8,168.8 L903.2,167.3 L905.0,166.0 L907.0,164.9 L909.1,164.1 L911.2,163.7 L913.2,163.8 L915.0,164.4 L916.5,165.4 L917.5,166.9 L918.1,168.7 L918.2,170.7 L917.8,172.8 L917.0,174.9 L915.9,176.9 L914.6,178.7 L913.1,180.1 L911.5,181.0 L910.2,181.6 L909.0,181.6 L908.2,181.2 L907.8,180.4 L907.8,179.2 L908.3,177.8 L909.3,176.3 L910.7,174.8 L912.4,173.4 L914.4,172.3 L916.6,171.5 L918.7,171.2 L920.7,171.3 L922.5,171.9 L923.9,172.9 L925.0,174.4 L925.6,176.1 L925.7,178.2 L925.3,180.3 L924.5,182.4 L923.4,184.4 L922.0,186.1 L920.5,187.5 L919.0,188.5 L917.6,189.0 L916.5,189.1 L915.6,188.7 L915.2,187.8 L915.3,186.7 L915.8,185.3 L916.8,183.8 L918.2,182.3 L919.9,180.9 L921.9,179.8 L924.0,179.0 L926.2,178.7 L928.2,178.8 L930.0,179.3 L931.4,180.4 L932.4,181.8 L933.0,183.6 L933.1,185.6 L932.8,187.8 L932.0,189.9 L930.9,191.9 L929.5,193.6 L928.0,195.0 L926.5,196.0 L925.1,196.5 L923.9,196.6 L923.1,196.1 L922.7,195.3 L922.7,194.2 L923.3,192.8 L924.2,191.3 L925.6,189.8 L927.4,188.4" fill="none" stroke="#e52424" stroke-width="2.0"/><ellipse cx="986" cy="176" rx="26" ry="25" fill="#a8a000"/><circle cx="993.8" cy="177.1" r="5" fill="url(#yl)"/><circle cx="979.2" cy="168.4" r="5" fill="url(#yl)"/><circle cx="983.7" cy="189.2" r="5" fill="url(#yl)"/><circle cx="984.3" cy="162.1" r="5" fill="url(#yl)"/><circle cx="968.2" cy="165.0" r="5" fill="url(#yl)"/><circle cx="1007.8" cy="171.4" r="5" fill="url(#yl)"/><circle cx="969.4" cy="167.9" r="5" fill="url(#yl)"/><circle cx="989.7" cy="181.4" r="5" fill="url(#yl)"/><circle cx="997.0" cy="189.0" r="5" fill="url(#yl)"/><circle cx="981.2" cy="170.9" r="5" fill="url(#yl)"/><circle cx="979.6" cy="182.7" r="5" fill="url(#yl)"/><circle cx="992.9" cy="162.2" r="5" fill="url(#yl)"/><circle cx="997.1" cy="155.8" r="5" fill="url(#yl)"/><circle cx="989.4" cy="192.4" r="5" fill="url(#yl)"/><circle cx="973.5" cy="181.2" r="5" fill="url(#yl)"/><circle cx="970.7" cy="192.2" r="5" fill="url(#yl)"/><circle cx="979.8" cy="177.9" r="5" fill="url(#yl)"/><circle cx="991.6" cy="170.9" r="5" fill="url(#yl)"/><circle cx="991.2" cy="196.9" r="5" fill="url(#yl)"/><circle cx="1001.0" cy="187.4" r="5" fill="url(#yl)"/><circle cx="991.6" cy="169.9" r="5" fill="url(#yl)"/><circle cx="971.1" cy="183.7" r="5" fill="url(#yl)"/><circle cx="981.5" cy="193.4" r="5" fill="url(#yl)"/><circle cx="997.5" cy="175.5" r="5" fill="url(#yl)"/><circle cx="971.8" cy="178.9" r="5" fill="url(#yl)"/><circle cx="992.3" cy="183.4" r="5" fill="url(#yl)"/><circle cx="994.4" cy="188.7" r="5" fill="url(#yl)"/><circle cx="991.8" cy="158.6" r="5" fill="url(#yl)"/><circle cx="1006.1" cy="184.6" r="5" fill="url(#yl)"/><circle cx="976.4" cy="187.1" r="5" fill="url(#yl)"/><circle cx="1000.6" cy="164.7" r="5" fill="url(#yl)"/><circle cx="971.1" cy="163.1" r="5" fill="url(#yl)"/><circle cx="974.0" cy="177.7" r="5" fill="url(#yl)"/><circle cx="1004.8" cy="180.2" r="5" fill="url(#yl)"/><circle cx="967.6" cy="171.6" r="5" fill="url(#yl)"/><circle cx="971.9" cy="168.8" r="5" fill="url(#yl)"/><circle cx="980.3" cy="174.1" r="5" fill="url(#yl)"/><circle cx="987.0" cy="192.9" r="5" fill="url(#yl)"/><circle cx="999.5" cy="177.1" r="5" fill="url(#yl)"/><circle cx="1001.4" cy="173.7" r="5" fill="url(#yl)"/><circle cx="982.9" cy="165.2" r="5" fill="url(#yl)"/><circle cx="979.5" cy="162.5" r="5" fill="url(#yl)"/><circle cx="994.8" cy="193.8" r="5" fill="url(#yl)"/><circle cx="970.3" cy="176.3" r="5" fill="url(#yl)"/><circle cx="966.1" cy="183.9" r="5" fill="url(#yl)"/><circle cx="997.8" cy="163.5" r="5" fill="url(#yl)"/><circle cx="990.6" cy="184.5" r="5" fill="url(#yl)"/><circle cx="976.6" cy="173.1" r="5" fill="url(#yl)"/><circle cx="966.8" cy="179.3" r="5" fill="url(#yl)"/><circle cx="993.5" cy="168.1" r="5" fill="url(#yl)"/><circle cx="979.4" cy="195.9" r="5" fill="url(#yl)"/><circle cx="969.8" cy="188.9" r="5" fill="url(#yl)"/><circle cx="990.7" cy="162.7" r="5" fill="url(#yl)"/><circle cx="982.8" cy="159.0" r="5" fill="url(#yl)"/><circle cx="983.3" cy="183.9" r="5" fill="url(#yl)"/><circle cx="976.0" cy="192.5" r="5" fill="url(#yl)"/><circle cx="972.5" cy="172.2" r="5" fill="url(#yl)"/><circle cx="978.1" cy="156.3" r="5" fill="url(#yl)"/><circle cx="988.4" cy="176.9" r="5" fill="url(#yl)"/><circle cx="997.0" cy="171.4" r="5" fill="url(#yl)"/><circle cx="1007.3" cy="177.5" r="5" fill="url(#yl)"/><circle cx="990.1" cy="156.1" r="5" fill="url(#yl)"/><circle cx="976.6" cy="163.9" r="5" fill="url(#yl)"/><circle cx="1002.8" cy="171.9" r="5" fill="url(#yl)"/><circle cx="985.4" cy="179.1" r="5" fill="url(#yl)"/><circle cx="1000.6" cy="181.9" r="5" fill="url(#yl)"/><circle cx="1002.9" cy="167.4" r="5" fill="url(#yl)"/><circle cx="984.5" cy="171.8" r="5" fill="url(#yl)"/><circle cx="982.0" cy="186.6" r="5" fill="url(#yl)"/><circle cx="999.2" cy="192.9" r="5" fill="url(#yl)"/><path d="M934.6,188.4 L936.4,189.8 L937.9,191.2 L938.9,192.6 L939.5,194.0 L939.6,195.1 L939.2,195.8 L938.5,196.2 L937.4,196.0 L936.1,195.4 L934.6,194.4 L933.2,192.9 L932.0,191.1 L930.9,189.0 L930.2,186.8 L930.0,184.6 L930.2,182.5 L930.8,180.7 L932.0,179.2 L933.5,178.1 L935.3,177.5 L937.4,177.3 L939.6,177.6 L941.8,178.4 L943.8,179.4 L945.6,180.8 L947.1,182.2 L948.1,183.6 L948.7,185.0 L948.8,186.1 L948.4,186.8 L947.7,187.2 L946.6,187.0 L945.3,186.4 L943.8,185.4 L942.4,183.9 L941.2,182.1 L940.1,180.0 L939.4,177.8 L939.2,175.6 L939.4,173.5 L940.0,171.7 L941.2,170.2 L942.7,169.1 L944.5,168.5 L946.6,168.3 L948.8,168.6 L951.0,169.4 L953.0,170.4 L954.8,171.8 L956.3,173.2 L957.3,174.6 L957.9,176.0 L958.0,177.1 L957.6,177.8 L956.9,178.2 L955.8,178.0 L954.5,177.4 L953.0,176.4 L951.6,174.9 L950.4,173.1 L949.3,171.0 L948.6,168.8 L948.4,166.6 L948.6,164.5 L949.2,162.7 L950.4,161.2 L951.9,160.1 L953.7,159.5 L955.8,159.3 L958.0,159.6 L960.2,160.4 L962.2,161.4 L964.0,162.8 L965.5,164.2 L966.5,165.6 L967.1,167.0 L967.2,168.1 L966.8,168.8 L966.1,169.2 L965.0,169.0 L963.7,168.4 L962.2,167.4 L960.8,165.9 L959.6,164.1 L958.5,162.0 L957.8,159.8 L957.6,157.6 L957.8,155.5 L958.4,153.7 L959.6,152.2 L961.1,151.1 L962.9,150.5 L965.0,150.3 L967.2,150.6 L969.4,151.4 L971.4,152.4 L973.2,153.8 L974.7,155.2 L975.7,156.6 L976.3,158.0 L976.4,159.1 L976.0,159.8 L975.3,160.2 L974.2,160.0 L972.9,159.4 L971.4,158.4 L970.0,156.9 L968.8,155.1 L967.7,153.0 L967.0,150.8 L966.8,148.6 L967.0,146.5 L967.6,144.7 L968.8,143.2 L970.3,142.1 L972.1,141.5 L974.2,141.3 L976.4,141.6 L978.6,142.4 L980.6,143.4" fill="none" stroke="#901010" stroke-width="2.9"/><path d="M934.6,188.4 L936.4,189.8 L937.9,191.2 L938.9,192.6 L939.5,194.0 L939.6,195.1 L939.2,195.8 L938.5,196.2 L937.4,196.0 L936.1,195.4 L934.6,194.4 L933.2,192.9 L932.0,191.1 L930.9,189.0 L930.2,186.8 L930.0,184.6 L930.2,182.5 L930.8,180.7 L932.0,179.2 L933.5,178.1 L935.3,177.5 L937.4,177.3 L939.6,177.6 L941.8,178.4 L943.8,179.4 L945.6,180.8 L947.1,182.2 L948.1,183.6 L948.7,185.0 L948.8,186.1 L948.4,186.8 L947.7,187.2 L946.6,187.0 L945.3,186.4 L943.8,185.4 L942.4,183.9 L941.2,182.1 L940.1,180.0 L939.4,177.8 L939.2,175.6 L939.4,173.5 L940.0,171.7 L941.2,170.2 L942.7,169.1 L944.5,168.5 L946.6,168.3 L948.8,168.6 L951.0,169.4 L953.0,170.4 L954.8,171.8 L956.3,173.2 L957.3,174.6 L957.9,176.0 L958.0,177.1 L957.6,177.8 L956.9,178.2 L955.8,178.0 L954.5,177.4 L953.0,176.4 L951.6,174.9 L950.4,173.1 L949.3,171.0 L948.6,168.8 L948.4,166.6 L948.6,164.5 L949.2,162.7 L950.4,161.2 L951.9,160.1 L953.7,159.5 L955.8,159.3 L958.0,159.6 L960.2,160.4 L962.2,161.4 L964.0,162.8 L965.5,164.2 L966.5,165.6 L967.1,167.0 L967.2,168.1 L966.8,168.8 L966.1,169.2 L965.0,169.0 L963.7,168.4 L962.2,167.4 L960.8,165.9 L959.6,164.1 L958.5,162.0 L957.8,159.8 L957.6,157.6 L957.8,155.5 L958.4,153.7 L959.6,152.2 L961.1,151.1 L962.9,150.5 L965.0,150.3 L967.2,150.6 L969.4,151.4 L971.4,152.4 L973.2,153.8 L974.7,155.2 L975.7,156.6 L976.3,158.0 L976.4,159.1 L976.0,159.8 L975.3,160.2 L974.2,160.0 L972.9,159.4 L971.4,158.4 L970.0,156.9 L968.8,155.1 L967.7,153.0 L967.0,150.8 L966.8,148.6 L967.0,146.5 L967.6,144.7 L968.8,143.2 L970.3,142.1 L972.1,141.5 L974.2,141.3 L976.4,141.6 L978.6,142.4 L980.6,143.4" fill="none" stroke="#e52424" stroke-width="2.0"/><path d="M979.3,142.8 L981.2,143.6 L982.8,144.6 L984.1,145.8 L984.9,147.0 L985.2,148.1 L985.0,149.0 L984.4,149.6 L983.3,150.0 L981.9,149.9 L980.2,149.5 L978.4,148.7 L976.7,147.5 L975.1,146.1 L973.8,144.4 L972.9,142.7 L972.4,140.9 L972.5,139.2 L973.0,137.7 L974.0,136.4 L975.4,135.4 L977.1,134.9 L979.1,134.7 L981.2,134.9 L983.3,135.4 L985.2,136.2 L986.8,137.3 L988.1,138.4 L988.9,139.6 L989.2,140.7 L989.0,141.6 L988.4,142.3 L987.3,142.6 L985.9,142.6 L984.2,142.1 L982.4,141.3 L980.7,140.2 L979.1,138.7 L977.8,137.1 L976.9,135.3 L976.4,133.5 L976.5,131.8 L977.0,130.3 L978.0,129.0 L979.4,128.1 L981.1,127.5 L983.1,127.3 L985.2,127.5 L987.3,128.1 L989.2,128.9 L990.8,129.9 L992.1,131.1 L992.9,132.2 L993.2,133.3 L993.0,134.3 L992.4,134.9 L991.3,135.2 L989.9,135.2 L988.2,134.8 L986.4,134.0 L984.7,132.8 L983.1,131.4 L981.8,129.7 L980.9,128.0 L980.4,126.2 L980.5,124.5 L981.0,122.9 L982.0,121.7 L983.4,120.7 L985.1,120.1 L987.1,120.0 L989.2,120.2 L991.3,120.7 L993.2,121.5 L994.8,122.6 L996.1,123.7 L996.9,124.9 L997.2,126.0 L997.0,126.9 L996.4,127.5 L995.3,127.9 L993.9,127.8 L992.2,127.4 L990.4,126.6 L988.7,125.4 L987.1,124.0 L985.8,122.4 L984.9,120.6 L984.4,118.8 L984.5,117.1 L985.0,115.6 L986.0,114.3 L987.4,113.4 L989.1,112.8 L991.1,112.6 L993.2,112.8 L995.3,113.3 L997.2,114.2 L998.8,115.2 L1000.1,116.3 L1000.9,117.5 L1001.2,118.6 L1001.0,119.5 L1000.4,120.2 L999.3,120.5 L997.9,120.5 L996.2,120.0 L994.4,119.2 L992.7,118.1 L991.1,116.6 L989.8,115.0 L988.9,113.2 L988.4,111.4 L988.5,109.7 L989.0,108.2 L990.0,106.9 L991.4,106.0 L993.1,105.4 L995.1,105.2 L997.2,105.4 L999.3,106.0 L1001.2,106.8 L1002.8,107.8 L1004.1,109.0 L1004.9,110.2 L1005.2,111.2 L1005.0,112.2 L1004.4,112.8 L1003.3,113.1 L1001.9,113.1 L1000.2,112.7 L998.4,111.9 L996.7,110.7 L995.1,109.3 L993.8,107.6 L992.9,105.9 L992.4,104.1 L992.5,102.4 L993.0,100.8 L994.0,99.6 L995.4,98.6 L997.1,98.1 L999.1,97.9 L1001.2,98.1 L1003.3,98.6 L1005.2,99.4 L1006.8,100.5 L1008.1,101.6 L1008.9,102.8 L1009.2,103.9 L1009.0,104.8 L1008.4,105.5 L1007.3,105.8 L1005.9,105.7 L1004.2,105.3 L1002.4,104.5 L1000.7,103.4 L999.1,101.9 L997.8,100.3 L996.9,98.5 L996.4,96.7 L996.5,95.0 L997.0,93.5 L998.0,92.2 L999.4,91.3 L1001.1,90.7 L1003.1,90.5 L1005.2,90.7 L1007.3,91.2 L1009.2,92.1 L1010.8,93.1 L1012.1,94.3 L1012.9,95.4 L1013.2,96.5 L1013.0,97.4 L1012.4,98.1 L1011.3,98.4 L1009.9,98.4 L1008.2,97.9 L1006.4,97.1 L1004.7,96.0 L1003.1,94.6 L1001.8,92.9 L1000.9,91.1 L1000.4,89.3 L1000.5,87.6 L1001.0,86.1 L1002.0,84.8 L1003.4,83.9 L1005.1,83.3 L1007.1,83.1 L1009.2,83.3 L1011.3,83.9 L1013.2,84.7 L1014.8,85.7 L1016.1,86.9 L1016.9,88.1 L1017.2,89.2 L1017.0,90.1 L1016.4,90.7 L1015.3,91.1 L1013.9,91.0 L1012.2,90.6 L1010.4,89.8 L1008.7,88.6 L1007.1,87.2 L1005.8,85.5 L1004.9,83.8 L1004.4,82.0 L1004.5,80.3 L1005.0,78.7 L1006.0,77.5 L1007.4,76.5 L1009.1,76.0 L1011.1,75.8 L1013.2,76.0 L1015.3,76.5 L1017.2,77.3 L1018.8,78.4 L1020.1,79.5 L1020.9,80.7 L1021.2,81.8 L1021.0,82.7 L1020.4,83.4 L1019.3,83.7 L1017.9,83.6 L1016.2,83.2 L1014.4,82.4 L1012.7,81.3 L1011.1,79.8 L1009.8,78.2 L1008.9,76.4 L1008.4,74.6 L1008.5,72.9 L1009.0,71.4 L1010.0,70.1 L1011.4,69.2 L1013.1,68.6 L1015.1,68.4 L1017.2,68.6 L1019.3,69.1 L1021.2,70.0 L1022.8,71.0 L1024.1,72.2 L1024.9,73.3 L1025.2,74.4 L1025.0,75.3 L1024.4,76.0 L1023.3,76.3 L1021.9,76.3 L1020.2,75.9 L1018.4,75.1 L1016.7,73.9 L1015.1,72.5 L1013.8,70.8 L1012.9,69.0 L1012.4,67.3 L1012.5,65.6 L1013.0,64.0 L1014.0,62.8 L1015.4,61.8 L1017.1,61.2 L1019.1,61.1 L1021.2,61.2 L1023.3,61.8" fill="none" stroke="#901010" stroke-width="2.9"/><path d="M979.3,142.8 L981.2,143.6 L982.8,144.6 L984.1,145.8 L984.9,147.0 L985.2,148.1 L985.0,149.0 L984.4,149.6 L983.3,150.0 L981.9,149.9 L980.2,149.5 L978.4,148.7 L976.7,147.5 L975.1,146.1 L973.8,144.4 L972.9,142.7 L972.4,140.9 L972.5,139.2 L973.0,137.7 L974.0,136.4 L975.4,135.4 L977.1,134.9 L979.1,134.7 L981.2,134.9 L983.3,135.4 L985.2,136.2 L986.8,137.3 L988.1,138.4 L988.9,139.6 L989.2,140.7 L989.0,141.6 L988.4,142.3 L987.3,142.6 L985.9,142.6 L984.2,142.1 L982.4,141.3 L980.7,140.2 L979.1,138.7 L977.8,137.1 L976.9,135.3 L976.4,133.5 L976.5,131.8 L977.0,130.3 L978.0,129.0 L979.4,128.1 L981.1,127.5 L983.1,127.3 L985.2,127.5 L987.3,128.1 L989.2,128.9 L990.8,129.9 L992.1,131.1 L992.9,132.2 L993.2,133.3 L993.0,134.3 L992.4,134.9 L991.3,135.2 L989.9,135.2 L988.2,134.8 L986.4,134.0 L984.7,132.8 L983.1,131.4 L981.8,129.7 L980.9,128.0 L980.4,126.2 L980.5,124.5 L981.0,122.9 L982.0,121.7 L983.4,120.7 L985.1,120.1 L987.1,120.0 L989.2,120.2 L991.3,120.7 L993.2,121.5 L994.8,122.6 L996.1,123.7 L996.9,124.9 L997.2,126.0 L997.0,126.9 L996.4,127.5 L995.3,127.9 L993.9,127.8 L992.2,127.4 L990.4,126.6 L988.7,125.4 L987.1,124.0 L985.8,122.4 L984.9,120.6 L984.4,118.8 L984.5,117.1 L985.0,115.6 L986.0,114.3 L987.4,113.4 L989.1,112.8 L991.1,112.6 L993.2,112.8 L995.3,113.3 L997.2,114.2 L998.8,115.2 L1000.1,116.3 L1000.9,117.5 L1001.2,118.6 L1001.0,119.5 L1000.4,120.2 L999.3,120.5 L997.9,120.5 L996.2,120.0 L994.4,119.2 L992.7,118.1 L991.1,116.6 L989.8,115.0 L988.9,113.2 L988.4,111.4 L988.5,109.7 L989.0,108.2 L990.0,106.9 L991.4,106.0 L993.1,105.4 L995.1,105.2 L997.2,105.4 L999.3,106.0 L1001.2,106.8 L1002.8,107.8 L1004.1,109.0 L1004.9,110.2 L1005.2,111.2 L1005.0,112.2 L1004.4,112.8 L1003.3,113.1 L1001.9,113.1 L1000.2,112.7 L998.4,111.9 L996.7,110.7 L995.1,109.3 L993.8,107.6 L992.9,105.9 L992.4,104.1 L992.5,102.4 L993.0,100.8 L994.0,99.6 L995.4,98.6 L997.1,98.1 L999.1,97.9 L1001.2,98.1 L1003.3,98.6 L1005.2,99.4 L1006.8,100.5 L1008.1,101.6 L1008.9,102.8 L1009.2,103.9 L1009.0,104.8 L1008.4,105.5 L1007.3,105.8 L1005.9,105.7 L1004.2,105.3 L1002.4,104.5 L1000.7,103.4 L999.1,101.9 L997.8,100.3 L996.9,98.5 L996.4,96.7 L996.5,95.0 L997.0,93.5 L998.0,92.2 L999.4,91.3 L1001.1,90.7 L1003.1,90.5 L1005.2,90.7 L1007.3,91.2 L1009.2,92.1 L1010.8,93.1 L1012.1,94.3 L1012.9,95.4 L1013.2,96.5 L1013.0,97.4 L1012.4,98.1 L1011.3,98.4 L1009.9,98.4 L1008.2,97.9 L1006.4,97.1 L1004.7,96.0 L1003.1,94.6 L1001.8,92.9 L1000.9,91.1 L1000.4,89.3 L1000.5,87.6 L1001.0,86.1 L1002.0,84.8 L1003.4,83.9 L1005.1,83.3 L1007.1,83.1 L1009.2,83.3 L1011.3,83.9 L1013.2,84.7 L1014.8,85.7 L1016.1,86.9 L1016.9,88.1 L1017.2,89.2 L1017.0,90.1 L1016.4,90.7 L1015.3,91.1 L1013.9,91.0 L1012.2,90.6 L1010.4,89.8 L1008.7,88.6 L1007.1,87.2 L1005.8,85.5 L1004.9,83.8 L1004.4,82.0 L1004.5,80.3 L1005.0,78.7 L1006.0,77.5 L1007.4,76.5 L1009.1,76.0 L1011.1,75.8 L1013.2,76.0 L1015.3,76.5 L1017.2,77.3 L1018.8,78.4 L1020.1,79.5 L1020.9,80.7 L1021.2,81.8 L1021.0,82.7 L1020.4,83.4 L1019.3,83.7 L1017.9,83.6 L1016.2,83.2 L1014.4,82.4 L1012.7,81.3 L1011.1,79.8 L1009.8,78.2 L1008.9,76.4 L1008.4,74.6 L1008.5,72.9 L1009.0,71.4 L1010.0,70.1 L1011.4,69.2 L1013.1,68.6 L1015.1,68.4 L1017.2,68.6 L1019.3,69.1 L1021.2,70.0 L1022.8,71.0 L1024.1,72.2 L1024.9,73.3 L1025.2,74.4 L1025.0,75.3 L1024.4,76.0 L1023.3,76.3 L1021.9,76.3 L1020.2,75.9 L1018.4,75.1 L1016.7,73.9 L1015.1,72.5 L1013.8,70.8 L1012.9,69.0 L1012.4,67.3 L1012.5,65.6 L1013.0,64.0 L1014.0,62.8 L1015.4,61.8 L1017.1,61.2 L1019.1,61.1 L1021.2,61.2 L1023.3,61.8" fill="none" stroke="#e52424" stroke-width="2.0"/><line x1="1021" y1="66" x2="1027" y2="60" stroke="#e02222" stroke-width="3"/><polygon points="1026,52 1031,48 1046,45 1070,40 1083,44 1103,43 1124,44 1130,49 1137,53 1131,59 1131,66 1114,71 1081,75 1059,73 1042,69 1030,62" fill="#0a7a24"/><circle cx="1053.8" cy="47.4" r="4.6" fill="url(#gr)"/><circle cx="1113.8" cy="61.1" r="4.6" fill="url(#gr)"/><circle cx="1087.0" cy="48.9" r="4.6" fill="url(#gr)"/><circle cx="1041.7" cy="54.4" r="4.6" fill="url(#gr)"/><circle cx="1075.3" cy="55.1" r="4.6" fill="url(#gr)"/><circle cx="1091.4" cy="53.2" r="4.6" fill="url(#gr)"/><circle cx="1064.1" cy="49.0" r="4.6" fill="url(#gr)"/><circle cx="1092.3" cy="67.6" r="4.6" fill="url(#gr)"/><circle cx="1061.5" cy="64.3" r="4.6" fill="url(#gr)"/><circle cx="1085.0" cy="57.6" r="4.6" fill="url(#gr)"/><circle cx="1072.8" cy="64.4" r="4.6" fill="url(#gr)"/><circle cx="1044.1" cy="50.3" r="4.6" fill="url(#gr)"/><circle cx="1068.4" cy="57.5" r="4.6" fill="url(#gr)"/><circle cx="1034.0" cy="52.9" r="4.6" fill="url(#gr)"/><circle cx="1049.0" cy="58.2" r="4.6" fill="url(#gr)"/><circle cx="1097.7" cy="65.0" r="4.6" fill="url(#gr)"/><circle cx="1044.4" cy="59.2" r="4.6" fill="url(#gr)"/><circle cx="1050.5" cy="50.1" r="4.6" fill="url(#gr)"/><circle cx="1098.1" cy="54.2" r="4.6" fill="url(#gr)"/><circle cx="1117.2" cy="64.8" r="4.6" fill="url(#gr)"/><circle cx="1125.0" cy="55.3" r="4.6" fill="url(#gr)"/><circle cx="1079.8" cy="59.7" r="4.6" fill="url(#gr)"/><circle cx="1106.2" cy="65.5" r="4.6" fill="url(#gr)"/><circle cx="1116.0" cy="60.0" r="4.6" fill="url(#gr)"/><circle cx="1052.2" cy="51.7" r="4.6" fill="url(#gr)"/><circle cx="1072.4" cy="61.4" r="4.6" fill="url(#gr)"/><circle cx="1096.2" cy="45.6" r="4.6" fill="url(#gr)"/><circle cx="1108.9" cy="51.6" r="4.6" fill="url(#gr)"/><circle cx="1067.5" cy="48.1" r="4.6" fill="url(#gr)"/><circle cx="1129.2" cy="55.9" r="4.6" fill="url(#gr)"/><circle cx="1067.9" cy="55.1" r="4.6" fill="url(#gr)"/><circle cx="1099.5" cy="55.9" r="4.6" fill="url(#gr)"/><circle cx="1089.7" cy="57.1" r="4.6" fill="url(#gr)"/><circle cx="1066.5" cy="54.6" r="4.6" fill="url(#gr)"/><circle cx="1108.7" cy="58.1" r="4.6" fill="url(#gr)"/><circle cx="1081.6" cy="68.0" r="4.6" fill="url(#gr)"/><circle cx="1045.3" cy="53.0" r="4.6" fill="url(#gr)"/><circle cx="1070.1" cy="58.1" r="4.6" fill="url(#gr)"/><circle cx="1066.2" cy="50.1" r="4.6" fill="url(#gr)"/><circle cx="1082.5" cy="46.4" r="4.6" fill="url(#gr)"/><circle cx="1100.1" cy="50.5" r="4.6" fill="url(#gr)"/><circle cx="1056.3" cy="60.9" r="4.6" fill="url(#gr)"/><circle cx="1060.9" cy="68.3" r="4.6" fill="url(#gr)"/><circle cx="1120.9" cy="61.3" r="4.6" fill="url(#gr)"/><circle cx="1085.9" cy="46.5" r="4.6" fill="url(#gr)"/><circle cx="1070.0" cy="67.5" r="4.6" fill="url(#gr)"/><circle cx="1109.2" cy="58.9" r="4.6" fill="url(#gr)"/><circle cx="1104.7" cy="58.0" r="4.6" fill="url(#gr)"/><circle cx="1128.0" cy="52.4" r="4.6" fill="url(#gr)"/><circle cx="1064.2" cy="61.6" r="4.6" fill="url(#gr)"/><circle cx="1104.4" cy="49.2" r="4.6" fill="url(#gr)"/><circle cx="1112.6" cy="66.2" r="4.6" fill="url(#gr)"/><circle cx="1086.4" cy="67.9" r="4.6" fill="url(#gr)"/><circle cx="1129.9" cy="59.4" r="4.6" fill="url(#gr)"/><circle cx="1104.6" cy="48.8" r="4.6" fill="url(#gr)"/><circle cx="1071.6" cy="46.2" r="4.6" fill="url(#gr)"/><circle cx="1033.3" cy="55.2" r="4.6" fill="url(#gr)"/><circle cx="1088.8" cy="53.0" r="4.6" fill="url(#gr)"/><circle cx="1048.4" cy="65.2" r="4.6" fill="url(#gr)"/><circle cx="1081.0" cy="63.2" r="4.6" fill="url(#gr)"/><circle cx="1069.3" cy="57.5" r="4.6" fill="url(#gr)"/><circle cx="1098.1" cy="66.0" r="4.6" fill="url(#gr)"/><circle cx="1106.7" cy="56.4" r="4.6" fill="url(#gr)"/><circle cx="1103.5" cy="62.6" r="4.6" fill="url(#gr)"/><circle cx="1037.4" cy="59.4" r="4.6" fill="url(#gr)"/><circle cx="1081.5" cy="56.0" r="4.6" fill="url(#gr)"/><circle cx="1052.7" cy="54.8" r="4.6" fill="url(#gr)"/><circle cx="1069.7" cy="52.2" r="4.6" fill="url(#gr)"/><circle cx="1087.3" cy="67.1" r="4.6" fill="url(#gr)"/><circle cx="1120.9" cy="51.6" r="4.6" fill="url(#gr)"/><circle cx="1087.5" cy="49.9" r="4.6" fill="url(#gr)"/><circle cx="1103.8" cy="47.6" r="4.6" fill="url(#gr)"/><circle cx="1053.9" cy="57.0" r="4.6" fill="url(#gr)"/><circle cx="1064.9" cy="61.7" r="4.6" fill="url(#gr)"/><circle cx="1121.5" cy="57.6" r="4.6" fill="url(#gr)"/><circle cx="1046.6" cy="52.7" r="4.6" fill="url(#gr)"/><circle cx="1109.1" cy="53.4" r="4.6" fill="url(#gr)"/><circle cx="1029.7" cy="57.9" r="4.6" fill="url(#gr)"/><circle cx="1057.2" cy="64.6" r="4.6" fill="url(#gr)"/><circle cx="1091.3" cy="48.8" r="4.6" fill="url(#gr)"/><circle cx="1048.2" cy="62.1" r="4.6" fill="url(#gr)"/><circle cx="1053.2" cy="59.9" r="4.6" fill="url(#gr)"/><circle cx="1094.4" cy="63.7" r="4.6" fill="url(#gr)"/><circle cx="1116.5" cy="48.9" r="4.6" fill="url(#gr)"/><circle cx="1047.0" cy="62.5" r="4.6" fill="url(#gr)"/><circle cx="1078.3" cy="52.3" r="4.6" fill="url(#gr)"/><circle cx="1050.5" cy="55.0" r="4.6" fill="url(#gr)"/><circle cx="1031.7" cy="55.9" r="4.6" fill="url(#gr)"/><circle cx="1086.7" cy="55.8" r="4.6" fill="url(#gr)"/><circle cx="1078.5" cy="49.8" r="4.6" fill="url(#gr)"/><circle cx="1068.6" cy="49.6" r="4.6" fill="url(#gr)"/><circle cx="1083.2" cy="65.1" r="4.6" fill="url(#gr)"/><circle cx="1077.6" cy="59.7" r="4.6" fill="url(#gr)"/><circle cx="1098.8" cy="59.6" r="4.6" fill="url(#gr)"/><circle cx="1109.1" cy="55.5" r="4.6" fill="url(#gr)"/><text x="720" y="288" font-size="27" font-weight="bold" fill="#2c3038" stroke="#2c3038" stroke-width="0" letter-spacing="1.5" filter="url(#soft)">发光N端</text><text x="1021" y="29" font-size="21" font-weight="normal" fill="#555" stroke="#555" stroke-width="0" letter-spacing="0.8" filter="url(#soft)">泛素分子无法结合</text><text x="1033" y="107" font-size="27" font-weight="bold" fill="#2c3038" stroke="#2c3038" stroke-width="0" letter-spacing="0" filter="url(#soft)">抗降解小肽标签</text><g stroke="#d2d2d8" stroke-width="1.5" fill="none"><line x1="53" y1="436" x2="53" y2="588"/><line x1="53" y1="588" x2="284" y2="588"/></g><path d="M47,444 L53,432 L59,444 Z" fill="#d2d2d8"/><path d="M278,582 L290,588 L278,594 Z" fill="#d2d2d8"/><path d="M53,572 C62,568 70,562 78,540 C84,520 86,500 94,488 C100,478 104,458 114,454 C124,450 132,462 140,482 C150,508 160,532 178,546 C190,556 200,556 210,554 C218,552 222,562 236,565 C250,568 256,564 266,563 C274,562 280,563 284,563 L284,588 L53,588 Z" fill="url(#crvfill)"/><path d="M53,572 C62,568 70,562 78,540 C84,520 86,500 94,488 C100,478 104,458 114,454 C124,450 132,462 140,482 C150,508 160,532 178,546 C190,556 200,556 210,554 C218,552 222,562 236,565 C250,568 256,564 266,563 C274,562 280,563 284,563" fill="none" stroke="#2f6f9e" stroke-width="2.2" stroke-opacity="0.6"/><path d="M53,572 C62,568 70,562 78,540 C84,520 86,500 94,488 C100,478 104,458 114,454 C124,450 132,462 140,482 C150,508 160,532 178,546 C190,556 200,556 210,554 C218,552 222,562 236,565 C250,568 256,564 266,563 C274,562 280,563 284,563" fill="none" stroke="#5aaee0" stroke-width="1.3"/><text x="60" y="421" font-size="28" font-weight="bold" text-anchor="start" letter-spacing="1.8" fill="#888" stroke="#888" stroke-width="9" stroke-linejoin="round" opacity="0.22" filter="url(#halo)">48小时半衰期</text><g filter="url(#soft)"><text x="60" y="421" font-size="28" font-weight="bold" text-anchor="start" letter-spacing="1.8" fill="#1e1e1e" stroke="#1e1e1e" stroke-width="4.8" stroke-linejoin="round">48小时半衰期</text><text x="60" y="421" font-size="28" font-weight="bold" text-anchor="start" letter-spacing="1.8" fill="#fff" stroke="#fff" stroke-width="0.3" stroke-linejoin="round">48小时半衰期</text></g><text x="88" y="623" font-size="28" font-weight="bold" text-anchor="start" letter-spacing="1.6" fill="#888" stroke="#888" stroke-width="9" stroke-linejoin="round" opacity="0.22" filter="url(#halo)">48小时半衰期</text><g filter="url(#soft)"><text x="88" y="623" font-size="28" font-weight="bold" text-anchor="start" letter-spacing="1.6" fill="#1e1e1e" stroke="#1e1e1e" stroke-width="4.8" stroke-linejoin="round">48小时半衰期</text><text x="88" y="623" font-size="28" font-weight="bold" text-anchor="start" letter-spacing="1.6" fill="#fff" stroke="#fff" stroke-width="0.3" stroke-linejoin="round">48小时半衰期</text></g><line x1="376" y1="516" x2="376" y2="576" stroke="#d0d0d0" stroke-width="1"/><polygon points="375,574 404,559 434,542 464,541 494,539 539,557 570,546 607,532 638,539 667,542 697,535 729,521 760,527 791,529 821,524 847,521 847,590 375,590" fill="url(#linefill)"/><polyline points="375,574 404,559 434,542 464,541 494,539 539,557 570,546 607,532 638,539 667,542 697,535 729,521 760,527 791,529 821,524 847,521" fill="none" stroke="#4a90cc" stroke-width="2"/><circle cx="375" cy="574" r="4" fill="#3aa0f0"/><circle cx="404" cy="559" r="4" fill="#3aa0f0"/><circle cx="434" cy="542" r="4" fill="#3aa0f0"/><circle cx="464" cy="541" r="4" fill="#3aa0f0"/><circle cx="494" cy="539" r="4" fill="#3aa0f0"/><circle cx="539" cy="557" r="4" fill="#3aa0f0"/><circle cx="570" cy="546" r="4" fill="#3aa0f0"/><circle cx="607" cy="532" r="4" fill="#3aa0f0"/><circle cx="638" cy="539" r="4" fill="#3aa0f0"/><circle cx="667" cy="542" r="4" fill="#3aa0f0"/><circle cx="697" cy="535" r="4" fill="#3aa0f0"/><circle cx="729" cy="521" r="4" fill="#3aa0f0"/><circle cx="760" cy="527" r="4" fill="#3aa0f0"/><circle cx="791" cy="529" r="4" fill="#3aa0f0"/><circle cx="821" cy="524" r="4" fill="#3aa0f0"/><circle cx="847" cy="521" r="4" fill="#3aa0f0"/><text x="375" y="610.5" font-size="15" fill="#505050" filter="url(#soft)">0 h</text><text x="433" y="610.5" font-size="15" fill="#505050" filter="url(#soft)">30 h</text><text x="495" y="610.5" font-size="15" fill="#505050" filter="url(#soft)">60 h</text><text x="562" y="610.5" font-size="15" fill="#505050" filter="url(#soft)">90 h</text><text x="634" y="610.5" font-size="15" fill="#505050" filter="url(#soft)">120 h</text><text x="716" y="610.5" font-size="15" fill="#505050" filter="url(#soft)">150 h</text><text x="790" y="610.5" font-size="15" fill="#505050" filter="url(#soft)">180 h</text><path d="M382,440 L394,440 L394,484 L402,484 L388,502 L373,484 L382,484 Z" fill="#e2e2e4"/><path d="M822,442 L836,442 L836,484 L844,484 L829,502 L812,484 L822,484 Z" fill="#e2e2e4"/><path d="M306,528 L350,528 L350,522 L366,534 L350,548 L350,540 L306,540 Z" fill="#e2e2e4"/><path d="M876,528 L920,528 L920,520 L936,535 L920,550 L920,542 L876,542 Z" fill="#e2e2e4"/><text x="298" y="415" font-size="29" font-weight="bold" text-anchor="start" letter-spacing="0.5" fill="#888" stroke="#888" stroke-width="9" stroke-linejoin="round" opacity="0.22" filter="url(#halo)">信号衰减曲线</text><g filter="url(#soft)"><text x="298" y="415" font-size="29" font-weight="bold" text-anchor="start" letter-spacing="0.5" fill="#1e1e1e" stroke="#1e1e1e" stroke-width="4.8" stroke-linejoin="round">信号衰减曲线</text><text x="298" y="415" font-size="29" font-weight="bold" text-anchor="start" letter-spacing="0.5" fill="#fff" stroke="#fff" stroke-width="0.3" stroke-linejoin="round">信号衰减曲线</text></g><text x="493" y="497" font-size="29" font-weight="bold" text-anchor="start" letter-spacing="0.6" fill="#888" stroke="#888" stroke-width="9" stroke-linejoin="round" opacity="0.22" filter="url(#halo)">发光亮度持续稳定</text><g filter="url(#soft)"><text x="493" y="497" font-size="29" font-weight="bold" text-anchor="start" letter-spacing="0.6" fill="#1e1e1e" stroke="#1e1e1e" stroke-width="4.8" stroke-linejoin="round">发光亮度持续稳定</text><text x="493" y="497" font-size="29" font-weight="bold" text-anchor="start" letter-spacing="0.6" fill="#fff" stroke="#fff" stroke-width="0.3" stroke-linejoin="round">发光亮度持续稳定</text></g><text x="713" y="416" font-size="28" font-weight="bold" text-anchor="start" letter-spacing="1.6" fill="#888" stroke="#888" stroke-width="9" stroke-linejoin="round" opacity="0.22" filter="url(#halo)">168小时半衰期</text><g filter="url(#soft)"><text x="713" y="416" font-size="28" font-weight="bold" text-anchor="start" letter-spacing="1.6" fill="#1e1e1e" stroke="#1e1e1e" stroke-width="4.8" stroke-linejoin="round">168小时半衰期</text><text x="713" y="416" font-size="28" font-weight="bold" text-anchor="start" letter-spacing="1.6" fill="#fff" stroke="#fff" stroke-width="0.3" stroke-linejoin="round">168小时半衰期</text></g><g stroke="#d8d8dc" stroke-width="1" fill="none"><line x1="961" y1="412" x2="961" y2="585"/><line x1="961" y1="585" x2="1183" y2="585"/></g><rect x="969" y="505" width="19" height="81" fill="#6ec8fa"/><rect x="988" y="505" width="15" height="81" fill="#1b9cf6"/><rect x="969" y="505" width="34" height="1.5" fill="#3a8ad8" opacity="0.6"/><rect x="1024" y="469" width="18" height="117" fill="#6ec8fa"/><rect x="1042" y="469" width="16" height="117" fill="#1b9cf6"/><rect x="1024" y="469" width="34" height="1.5" fill="#3a8ad8" opacity="0.6"/><rect x="1079" y="406" width="18" height="180" fill="#6ec8fa"/><rect x="1097" y="406" width="16" height="180" fill="#1b9cf6"/><rect x="1079" y="406" width="34" height="1.5" fill="#3a8ad8" opacity="0.6"/><rect x="1133" y="428" width="19" height="158" fill="#6ec8fa"/><rect x="1152" y="428" width="16" height="158" fill="#1b9cf6"/><rect x="1133" y="428" width="35" height="1.5" fill="#3a8ad8" opacity="0.6"/><text x="965" y="384" font-size="28" font-weight="bold" text-anchor="start" letter-spacing="1.6" fill="#888" stroke="#888" stroke-width="9" stroke-linejoin="round" opacity="0.22" filter="url(#halo)">168小时半衰期</text><g filter="url(#soft)"><text x="965" y="384" font-size="28" font-weight="bold" text-anchor="start" letter-spacing="1.6" fill="#1e1e1e" stroke="#1e1e1e" stroke-width="4.8" stroke-linejoin="round">168小时半衰期</text><text x="965" y="384" font-size="28" font-weight="bold" text-anchor="start" letter-spacing="1.6" fill="#fff" stroke="#fff" stroke-width="0.3" stroke-linejoin="round">168小时半衰期</text></g><text x="935" y="625" font-size="28" font-weight="bold" text-anchor="start" letter-spacing="1.2" fill="#888" stroke="#888" stroke-width="9" stroke-linejoin="round" opacity="0.22" filter="url(#halo)">3倍稳态表达量柱状图</text><g filter="url(#soft)"><text x="935" y="625" font-size="28" font-weight="bold" text-anchor="start" letter-spacing="1.2" fill="#1e1e1e" stroke="#1e1e1e" stroke-width="4.8" stroke-linejoin="round">3倍稳态表达量柱状图</text><text x="935" y="625" font-size="28" font-weight="bold" text-anchor="start" letter-spacing="1.2" fill="#fff" stroke="#fff" stroke-width="0.3" stroke-linejoin="round">3倍稳态表达量柱状图</text></g></svg></body></html>
